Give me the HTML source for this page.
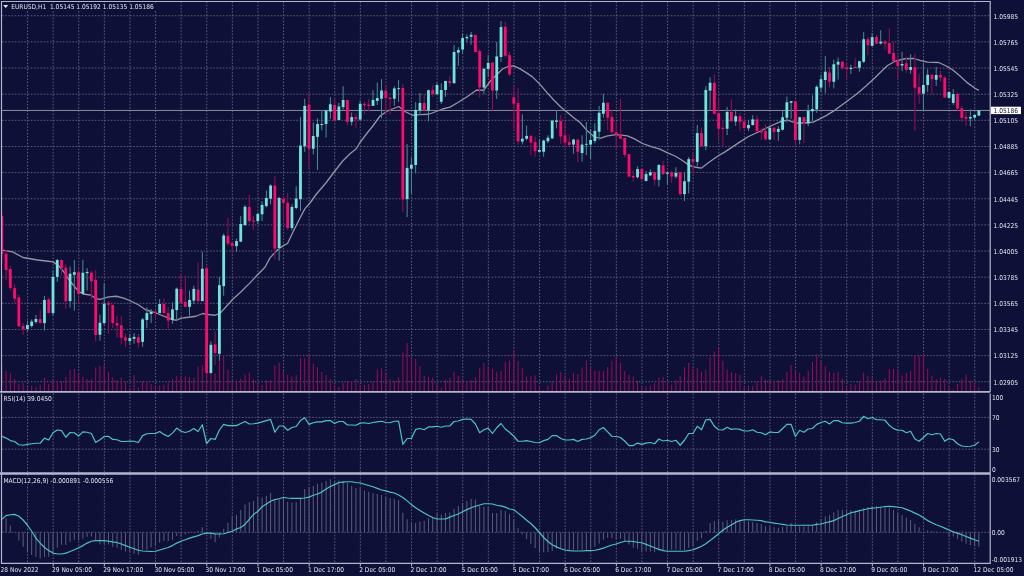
<!DOCTYPE html>
<html><head><meta charset="utf-8"><title>EURUSD,H1</title><style>
html,body{margin:0;padding:0;background:#0e1038;width:1024px;height:576px;overflow:hidden}
svg{display:block}
.g{stroke:#5c5c7a;stroke-width:1;stroke-dasharray:1.6 1.6;fill:none}
.f{stroke:#b4b4cc;stroke-width:1;fill:none}
.fr{stroke:#b4b4cc;stroke-width:1.2;fill:none}
.sep{stroke:#b4b4cc;stroke-width:1.8}
.v{stroke:#ff0a6c;stroke-width:0.6}
.h{stroke:#9494a8;stroke-width:0.6}
.u{stroke:#0e1038;stroke-width:1}
.t{font-family:"DejaVu Sans Condensed","DejaVu Sans","Liberation Sans",sans-serif;font-stretch:condensed;font-size:6.6px;fill:#e4e4ec}
</style></head><body>
<svg width="1024" height="576" viewBox="0 0 1024 576">
<defs>
<clipPath id="cm"><rect x="2" y="2" width="988.2" height="389.3"/></clipPath>
<clipPath id="cr"><rect x="2" y="394.0" width="988.2" height="78.30000000000001"/></clipPath>
<clipPath id="cd"><rect x="2" y="474.5" width="988.2" height="88.39999999999998"/></clipPath>
</defs>
<rect width="1024" height="576" fill="#0e1038"/>
<line x1="27.55" y1="1.5" x2="27.55" y2="391.8" class="g"/>
<line x1="53.15" y1="1.5" x2="53.15" y2="391.8" class="g"/>
<line x1="78.75" y1="1.5" x2="78.75" y2="391.8" class="g"/>
<line x1="104.35" y1="1.5" x2="104.35" y2="391.8" class="g"/>
<line x1="129.95" y1="1.5" x2="129.95" y2="391.8" class="g"/>
<line x1="155.55" y1="1.5" x2="155.55" y2="391.8" class="g"/>
<line x1="181.15" y1="1.5" x2="181.15" y2="391.8" class="g"/>
<line x1="206.75" y1="1.5" x2="206.75" y2="391.8" class="g"/>
<line x1="232.35" y1="1.5" x2="232.35" y2="391.8" class="g"/>
<line x1="257.95" y1="1.5" x2="257.95" y2="391.8" class="g"/>
<line x1="283.55" y1="1.5" x2="283.55" y2="391.8" class="g"/>
<line x1="309.15" y1="1.5" x2="309.15" y2="391.8" class="g"/>
<line x1="334.75" y1="1.5" x2="334.75" y2="391.8" class="g"/>
<line x1="360.35" y1="1.5" x2="360.35" y2="391.8" class="g"/>
<line x1="385.95" y1="1.5" x2="385.95" y2="391.8" class="g"/>
<line x1="411.55" y1="1.5" x2="411.55" y2="391.8" class="g"/>
<line x1="437.15" y1="1.5" x2="437.15" y2="391.8" class="g"/>
<line x1="462.75" y1="1.5" x2="462.75" y2="391.8" class="g"/>
<line x1="488.35" y1="1.5" x2="488.35" y2="391.8" class="g"/>
<line x1="513.95" y1="1.5" x2="513.95" y2="391.8" class="g"/>
<line x1="539.55" y1="1.5" x2="539.55" y2="391.8" class="g"/>
<line x1="565.15" y1="1.5" x2="565.15" y2="391.8" class="g"/>
<line x1="590.75" y1="1.5" x2="590.75" y2="391.8" class="g"/>
<line x1="616.35" y1="1.5" x2="616.35" y2="391.8" class="g"/>
<line x1="641.95" y1="1.5" x2="641.95" y2="391.8" class="g"/>
<line x1="667.55" y1="1.5" x2="667.55" y2="391.8" class="g"/>
<line x1="693.15" y1="1.5" x2="693.15" y2="391.8" class="g"/>
<line x1="718.75" y1="1.5" x2="718.75" y2="391.8" class="g"/>
<line x1="744.35" y1="1.5" x2="744.35" y2="391.8" class="g"/>
<line x1="769.95" y1="1.5" x2="769.95" y2="391.8" class="g"/>
<line x1="795.55" y1="1.5" x2="795.55" y2="391.8" class="g"/>
<line x1="821.15" y1="1.5" x2="821.15" y2="391.8" class="g"/>
<line x1="846.75" y1="1.5" x2="846.75" y2="391.8" class="g"/>
<line x1="872.35" y1="1.5" x2="872.35" y2="391.8" class="g"/>
<line x1="897.95" y1="1.5" x2="897.95" y2="391.8" class="g"/>
<line x1="923.55" y1="1.5" x2="923.55" y2="391.8" class="g"/>
<line x1="949.15" y1="1.5" x2="949.15" y2="391.8" class="g"/>
<line x1="974.75" y1="1.5" x2="974.75" y2="391.8" class="g"/>
<line x1="27.55" y1="393.5" x2="27.55" y2="472.8" class="g"/>
<line x1="53.15" y1="393.5" x2="53.15" y2="472.8" class="g"/>
<line x1="78.75" y1="393.5" x2="78.75" y2="472.8" class="g"/>
<line x1="104.35" y1="393.5" x2="104.35" y2="472.8" class="g"/>
<line x1="129.95" y1="393.5" x2="129.95" y2="472.8" class="g"/>
<line x1="155.55" y1="393.5" x2="155.55" y2="472.8" class="g"/>
<line x1="181.15" y1="393.5" x2="181.15" y2="472.8" class="g"/>
<line x1="206.75" y1="393.5" x2="206.75" y2="472.8" class="g"/>
<line x1="232.35" y1="393.5" x2="232.35" y2="472.8" class="g"/>
<line x1="257.95" y1="393.5" x2="257.95" y2="472.8" class="g"/>
<line x1="283.55" y1="393.5" x2="283.55" y2="472.8" class="g"/>
<line x1="309.15" y1="393.5" x2="309.15" y2="472.8" class="g"/>
<line x1="334.75" y1="393.5" x2="334.75" y2="472.8" class="g"/>
<line x1="360.35" y1="393.5" x2="360.35" y2="472.8" class="g"/>
<line x1="385.95" y1="393.5" x2="385.95" y2="472.8" class="g"/>
<line x1="411.55" y1="393.5" x2="411.55" y2="472.8" class="g"/>
<line x1="437.15" y1="393.5" x2="437.15" y2="472.8" class="g"/>
<line x1="462.75" y1="393.5" x2="462.75" y2="472.8" class="g"/>
<line x1="488.35" y1="393.5" x2="488.35" y2="472.8" class="g"/>
<line x1="513.95" y1="393.5" x2="513.95" y2="472.8" class="g"/>
<line x1="539.55" y1="393.5" x2="539.55" y2="472.8" class="g"/>
<line x1="565.15" y1="393.5" x2="565.15" y2="472.8" class="g"/>
<line x1="590.75" y1="393.5" x2="590.75" y2="472.8" class="g"/>
<line x1="616.35" y1="393.5" x2="616.35" y2="472.8" class="g"/>
<line x1="641.95" y1="393.5" x2="641.95" y2="472.8" class="g"/>
<line x1="667.55" y1="393.5" x2="667.55" y2="472.8" class="g"/>
<line x1="693.15" y1="393.5" x2="693.15" y2="472.8" class="g"/>
<line x1="718.75" y1="393.5" x2="718.75" y2="472.8" class="g"/>
<line x1="744.35" y1="393.5" x2="744.35" y2="472.8" class="g"/>
<line x1="769.95" y1="393.5" x2="769.95" y2="472.8" class="g"/>
<line x1="795.55" y1="393.5" x2="795.55" y2="472.8" class="g"/>
<line x1="821.15" y1="393.5" x2="821.15" y2="472.8" class="g"/>
<line x1="846.75" y1="393.5" x2="846.75" y2="472.8" class="g"/>
<line x1="872.35" y1="393.5" x2="872.35" y2="472.8" class="g"/>
<line x1="897.95" y1="393.5" x2="897.95" y2="472.8" class="g"/>
<line x1="923.55" y1="393.5" x2="923.55" y2="472.8" class="g"/>
<line x1="949.15" y1="393.5" x2="949.15" y2="472.8" class="g"/>
<line x1="974.75" y1="393.5" x2="974.75" y2="472.8" class="g"/>
<line x1="27.55" y1="474.0" x2="27.55" y2="563.4" class="g"/>
<line x1="53.15" y1="474.0" x2="53.15" y2="563.4" class="g"/>
<line x1="78.75" y1="474.0" x2="78.75" y2="563.4" class="g"/>
<line x1="104.35" y1="474.0" x2="104.35" y2="563.4" class="g"/>
<line x1="129.95" y1="474.0" x2="129.95" y2="563.4" class="g"/>
<line x1="155.55" y1="474.0" x2="155.55" y2="563.4" class="g"/>
<line x1="181.15" y1="474.0" x2="181.15" y2="563.4" class="g"/>
<line x1="206.75" y1="474.0" x2="206.75" y2="563.4" class="g"/>
<line x1="232.35" y1="474.0" x2="232.35" y2="563.4" class="g"/>
<line x1="257.95" y1="474.0" x2="257.95" y2="563.4" class="g"/>
<line x1="283.55" y1="474.0" x2="283.55" y2="563.4" class="g"/>
<line x1="309.15" y1="474.0" x2="309.15" y2="563.4" class="g"/>
<line x1="334.75" y1="474.0" x2="334.75" y2="563.4" class="g"/>
<line x1="360.35" y1="474.0" x2="360.35" y2="563.4" class="g"/>
<line x1="385.95" y1="474.0" x2="385.95" y2="563.4" class="g"/>
<line x1="411.55" y1="474.0" x2="411.55" y2="563.4" class="g"/>
<line x1="437.15" y1="474.0" x2="437.15" y2="563.4" class="g"/>
<line x1="462.75" y1="474.0" x2="462.75" y2="563.4" class="g"/>
<line x1="488.35" y1="474.0" x2="488.35" y2="563.4" class="g"/>
<line x1="513.95" y1="474.0" x2="513.95" y2="563.4" class="g"/>
<line x1="539.55" y1="474.0" x2="539.55" y2="563.4" class="g"/>
<line x1="565.15" y1="474.0" x2="565.15" y2="563.4" class="g"/>
<line x1="590.75" y1="474.0" x2="590.75" y2="563.4" class="g"/>
<line x1="616.35" y1="474.0" x2="616.35" y2="563.4" class="g"/>
<line x1="641.95" y1="474.0" x2="641.95" y2="563.4" class="g"/>
<line x1="667.55" y1="474.0" x2="667.55" y2="563.4" class="g"/>
<line x1="693.15" y1="474.0" x2="693.15" y2="563.4" class="g"/>
<line x1="718.75" y1="474.0" x2="718.75" y2="563.4" class="g"/>
<line x1="744.35" y1="474.0" x2="744.35" y2="563.4" class="g"/>
<line x1="769.95" y1="474.0" x2="769.95" y2="563.4" class="g"/>
<line x1="795.55" y1="474.0" x2="795.55" y2="563.4" class="g"/>
<line x1="821.15" y1="474.0" x2="821.15" y2="563.4" class="g"/>
<line x1="846.75" y1="474.0" x2="846.75" y2="563.4" class="g"/>
<line x1="872.35" y1="474.0" x2="872.35" y2="563.4" class="g"/>
<line x1="897.95" y1="474.0" x2="897.95" y2="563.4" class="g"/>
<line x1="923.55" y1="474.0" x2="923.55" y2="563.4" class="g"/>
<line x1="949.15" y1="474.0" x2="949.15" y2="563.4" class="g"/>
<line x1="974.75" y1="474.0" x2="974.75" y2="563.4" class="g"/>
<line x1="2" y1="15.75" x2="990.2" y2="15.75" class="g"/>
<text x="993.6" y="18.50" class="t">1.05985</text>
<line x1="2" y1="41.89" x2="990.2" y2="41.89" class="g"/>
<text x="993.6" y="44.64" class="t">1.05765</text>
<line x1="2" y1="68.04" x2="990.2" y2="68.04" class="g"/>
<text x="993.6" y="70.79" class="t">1.05545</text>
<line x1="2" y1="94.18" x2="990.2" y2="94.18" class="g"/>
<text x="993.6" y="96.93" class="t">1.05325</text>
<line x1="2" y1="120.32" x2="990.2" y2="120.32" class="g"/>
<text x="993.6" y="123.07" class="t">1.05105</text>
<line x1="2" y1="146.47" x2="990.2" y2="146.47" class="g"/>
<text x="993.6" y="149.22" class="t">1.04885</text>
<line x1="2" y1="172.61" x2="990.2" y2="172.61" class="g"/>
<text x="993.6" y="175.36" class="t">1.04665</text>
<line x1="2" y1="198.75" x2="990.2" y2="198.75" class="g"/>
<text x="993.6" y="201.50" class="t">1.04445</text>
<line x1="2" y1="224.89" x2="990.2" y2="224.89" class="g"/>
<text x="993.6" y="227.64" class="t">1.04225</text>
<line x1="2" y1="251.04" x2="990.2" y2="251.04" class="g"/>
<text x="993.6" y="253.79" class="t">1.04005</text>
<line x1="2" y1="277.18" x2="990.2" y2="277.18" class="g"/>
<text x="993.6" y="279.93" class="t">1.03785</text>
<line x1="2" y1="303.32" x2="990.2" y2="303.32" class="g"/>
<text x="993.6" y="306.07" class="t">1.03565</text>
<line x1="2" y1="329.47" x2="990.2" y2="329.47" class="g"/>
<text x="993.6" y="332.22" class="t">1.03345</text>
<line x1="2" y1="355.61" x2="990.2" y2="355.61" class="g"/>
<text x="993.6" y="358.36" class="t">1.03125</text>
<line x1="2" y1="381.75" x2="990.2" y2="381.75" class="g"/>
<text x="993.6" y="384.50" class="t">1.02905</text>
<line x1="2" y1="417.40" x2="990.2" y2="417.40" class="g"/>
<line x1="2" y1="449.20" x2="990.2" y2="449.20" class="g"/>
<line x1="2" y1="532.30" x2="990.2" y2="532.30" class="g"/>
<text x="991.9" y="399.6" class="t">100</text>
<text x="991.9" y="419.8" class="t">70</text>
<text x="991.9" y="451.6" class="t">30</text>
<text x="991.9" y="471.8" class="t">0</text>
<text x="991.7" y="481.6" class="t">0.003567</text>
<text x="991.7" y="534.8" class="t">0.00</text>
<text x="991.7" y="561.9" class="t">-0.001913</text>
<g clip-path="url(#cm)">
<line x1="1.80" y1="391.0" x2="1.80" y2="365.25" class="u"/><line x1="1.80" y1="391.0" x2="1.80" y2="365.25" class="v"/>
<line x1="6.07" y1="391.0" x2="6.07" y2="371.10" class="u"/><line x1="6.07" y1="391.0" x2="6.07" y2="371.10" class="v"/>
<line x1="10.33" y1="391.0" x2="10.33" y2="373.25" class="u"/><line x1="10.33" y1="391.0" x2="10.33" y2="373.25" class="v"/>
<line x1="14.60" y1="391.0" x2="14.60" y2="379.00" class="u"/><line x1="14.60" y1="391.0" x2="14.60" y2="379.00" class="v"/>
<line x1="18.87" y1="391.0" x2="18.87" y2="384.00" class="u"/><line x1="18.87" y1="391.0" x2="18.87" y2="384.00" class="v"/>
<line x1="23.13" y1="391.0" x2="23.13" y2="382.40" class="u"/><line x1="23.13" y1="391.0" x2="23.13" y2="382.40" class="v"/>
<line x1="27.40" y1="391.0" x2="27.40" y2="387.00" class="u"/><line x1="27.40" y1="391.0" x2="27.40" y2="387.00" class="v"/>
<line x1="31.67" y1="391.0" x2="31.67" y2="386.10" class="u"/><line x1="31.67" y1="391.0" x2="31.67" y2="386.10" class="v"/>
<line x1="35.93" y1="391.0" x2="35.93" y2="386.75" class="u"/><line x1="35.93" y1="391.0" x2="35.93" y2="386.75" class="v"/>
<line x1="40.20" y1="391.0" x2="40.20" y2="384.90" class="u"/><line x1="40.20" y1="391.0" x2="40.20" y2="384.90" class="v"/>
<line x1="44.47" y1="391.0" x2="44.47" y2="378.00" class="u"/><line x1="44.47" y1="391.0" x2="44.47" y2="378.00" class="v"/>
<line x1="48.73" y1="391.0" x2="48.73" y2="384.00" class="u"/><line x1="48.73" y1="391.0" x2="48.73" y2="384.00" class="v"/>
<line x1="53.00" y1="391.0" x2="53.00" y2="379.00" class="u"/><line x1="53.00" y1="391.0" x2="53.00" y2="379.00" class="v"/>
<line x1="57.27" y1="391.0" x2="57.27" y2="380.75" class="u"/><line x1="57.27" y1="391.0" x2="57.27" y2="380.75" class="v"/>
<line x1="61.53" y1="391.0" x2="61.53" y2="382.00" class="u"/><line x1="61.53" y1="391.0" x2="61.53" y2="382.00" class="v"/>
<line x1="65.80" y1="391.0" x2="65.80" y2="377.00" class="u"/><line x1="65.80" y1="391.0" x2="65.80" y2="377.00" class="v"/>
<line x1="70.07" y1="391.0" x2="70.07" y2="369.90" class="u"/><line x1="70.07" y1="391.0" x2="70.07" y2="369.90" class="v"/>
<line x1="74.33" y1="391.0" x2="74.33" y2="369.00" class="u"/><line x1="74.33" y1="391.0" x2="74.33" y2="369.00" class="v"/>
<line x1="78.60" y1="391.0" x2="78.60" y2="372.75" class="u"/><line x1="78.60" y1="391.0" x2="78.60" y2="372.75" class="v"/>
<line x1="82.87" y1="391.0" x2="82.87" y2="377.00" class="u"/><line x1="82.87" y1="391.0" x2="82.87" y2="377.00" class="v"/>
<line x1="87.13" y1="391.0" x2="87.13" y2="379.00" class="u"/><line x1="87.13" y1="391.0" x2="87.13" y2="379.00" class="v"/>
<line x1="91.40" y1="391.0" x2="91.40" y2="379.00" class="u"/><line x1="91.40" y1="391.0" x2="91.40" y2="379.00" class="v"/>
<line x1="95.67" y1="391.0" x2="95.67" y2="367.40" class="u"/><line x1="95.67" y1="391.0" x2="95.67" y2="367.40" class="v"/>
<line x1="99.93" y1="391.0" x2="99.93" y2="366.10" class="u"/><line x1="99.93" y1="391.0" x2="99.93" y2="366.10" class="v"/>
<line x1="104.20" y1="391.0" x2="104.20" y2="365.25" class="u"/><line x1="104.20" y1="391.0" x2="104.20" y2="365.25" class="v"/>
<line x1="108.47" y1="391.0" x2="108.47" y2="372.00" class="u"/><line x1="108.47" y1="391.0" x2="108.47" y2="372.00" class="v"/>
<line x1="112.73" y1="391.0" x2="112.73" y2="377.40" class="u"/><line x1="112.73" y1="391.0" x2="112.73" y2="377.40" class="v"/>
<line x1="117.00" y1="391.0" x2="117.00" y2="380.25" class="u"/><line x1="117.00" y1="391.0" x2="117.00" y2="380.25" class="v"/>
<line x1="121.27" y1="391.0" x2="121.27" y2="377.40" class="u"/><line x1="121.27" y1="391.0" x2="121.27" y2="377.40" class="v"/>
<line x1="125.53" y1="391.0" x2="125.53" y2="382.00" class="u"/><line x1="125.53" y1="391.0" x2="125.53" y2="382.00" class="v"/>
<line x1="129.80" y1="391.0" x2="129.80" y2="387.75" class="u"/><line x1="129.80" y1="391.0" x2="129.80" y2="387.75" class="v"/>
<line x1="134.07" y1="391.0" x2="134.07" y2="374.90" class="u"/><line x1="134.07" y1="391.0" x2="134.07" y2="374.90" class="v"/>
<line x1="138.33" y1="391.0" x2="138.33" y2="387.00" class="u"/><line x1="138.33" y1="391.0" x2="138.33" y2="387.00" class="v"/>
<line x1="142.60" y1="391.0" x2="142.60" y2="381.10" class="u"/><line x1="142.60" y1="391.0" x2="142.60" y2="381.10" class="v"/>
<line x1="146.87" y1="391.0" x2="146.87" y2="380.75" class="u"/><line x1="146.87" y1="391.0" x2="146.87" y2="380.75" class="v"/>
<line x1="151.13" y1="391.0" x2="151.13" y2="384.00" class="u"/><line x1="151.13" y1="391.0" x2="151.13" y2="384.00" class="v"/>
<line x1="155.40" y1="391.0" x2="155.40" y2="385.25" class="u"/><line x1="155.40" y1="391.0" x2="155.40" y2="385.25" class="v"/>
<line x1="159.67" y1="391.0" x2="159.67" y2="385.50" class="u"/><line x1="159.67" y1="391.0" x2="159.67" y2="385.50" class="v"/>
<line x1="163.93" y1="391.0" x2="163.93" y2="384.50" class="u"/><line x1="163.93" y1="391.0" x2="163.93" y2="384.50" class="v"/>
<line x1="168.20" y1="391.0" x2="168.20" y2="382.75" class="u"/><line x1="168.20" y1="391.0" x2="168.20" y2="382.75" class="v"/>
<line x1="172.47" y1="391.0" x2="172.47" y2="379.00" class="u"/><line x1="172.47" y1="391.0" x2="172.47" y2="379.00" class="v"/>
<line x1="176.73" y1="391.0" x2="176.73" y2="375.75" class="u"/><line x1="176.73" y1="391.0" x2="176.73" y2="375.75" class="v"/>
<line x1="181.00" y1="391.0" x2="181.00" y2="376.75" class="u"/><line x1="181.00" y1="391.0" x2="181.00" y2="376.75" class="v"/>
<line x1="185.27" y1="391.0" x2="185.27" y2="376.50" class="u"/><line x1="185.27" y1="391.0" x2="185.27" y2="376.50" class="v"/>
<line x1="189.53" y1="391.0" x2="189.53" y2="376.75" class="u"/><line x1="189.53" y1="391.0" x2="189.53" y2="376.75" class="v"/>
<line x1="193.80" y1="391.0" x2="193.80" y2="378.00" class="u"/><line x1="193.80" y1="391.0" x2="193.80" y2="378.00" class="v"/>
<line x1="198.07" y1="391.0" x2="198.07" y2="366.10" class="u"/><line x1="198.07" y1="391.0" x2="198.07" y2="366.10" class="v"/>
<line x1="202.33" y1="391.0" x2="202.33" y2="364.90" class="u"/><line x1="202.33" y1="391.0" x2="202.33" y2="364.90" class="v"/>
<line x1="206.60" y1="391.0" x2="206.60" y2="355.00" class="u"/><line x1="206.60" y1="391.0" x2="206.60" y2="355.00" class="v"/>
<line x1="210.87" y1="391.0" x2="210.87" y2="366.00" class="u"/><line x1="210.87" y1="391.0" x2="210.87" y2="366.00" class="v"/>
<line x1="215.13" y1="391.0" x2="215.13" y2="373.25" class="u"/><line x1="215.13" y1="391.0" x2="215.13" y2="373.25" class="v"/>
<line x1="219.40" y1="391.0" x2="219.40" y2="361.75" class="u"/><line x1="219.40" y1="391.0" x2="219.40" y2="361.75" class="v"/>
<line x1="223.67" y1="391.0" x2="223.67" y2="354.90" class="u"/><line x1="223.67" y1="391.0" x2="223.67" y2="354.90" class="v"/>
<line x1="227.93" y1="391.0" x2="227.93" y2="369.90" class="u"/><line x1="227.93" y1="391.0" x2="227.93" y2="369.90" class="v"/>
<line x1="232.20" y1="391.0" x2="232.20" y2="380.75" class="u"/><line x1="232.20" y1="391.0" x2="232.20" y2="380.75" class="v"/>
<line x1="236.47" y1="391.0" x2="236.47" y2="380.25" class="u"/><line x1="236.47" y1="391.0" x2="236.47" y2="380.25" class="v"/>
<line x1="240.73" y1="391.0" x2="240.73" y2="378.60" class="u"/><line x1="240.73" y1="391.0" x2="240.73" y2="378.60" class="v"/>
<line x1="245.00" y1="391.0" x2="245.00" y2="374.25" class="u"/><line x1="245.00" y1="391.0" x2="245.00" y2="374.25" class="v"/>
<line x1="249.27" y1="391.0" x2="249.27" y2="372.75" class="u"/><line x1="249.27" y1="391.0" x2="249.27" y2="372.75" class="v"/>
<line x1="253.53" y1="391.0" x2="253.53" y2="379.00" class="u"/><line x1="253.53" y1="391.0" x2="253.53" y2="379.00" class="v"/>
<line x1="257.80" y1="391.0" x2="257.80" y2="383.00" class="u"/><line x1="257.80" y1="391.0" x2="257.80" y2="383.00" class="v"/>
<line x1="262.07" y1="391.0" x2="262.07" y2="384.90" class="u"/><line x1="262.07" y1="391.0" x2="262.07" y2="384.90" class="v"/>
<line x1="266.33" y1="391.0" x2="266.33" y2="380.25" class="u"/><line x1="266.33" y1="391.0" x2="266.33" y2="380.25" class="v"/>
<line x1="270.60" y1="391.0" x2="270.60" y2="379.90" class="u"/><line x1="270.60" y1="391.0" x2="270.60" y2="379.90" class="v"/>
<line x1="274.87" y1="391.0" x2="274.87" y2="365.25" class="u"/><line x1="274.87" y1="391.0" x2="274.87" y2="365.25" class="v"/>
<line x1="279.13" y1="391.0" x2="279.13" y2="362.75" class="u"/><line x1="279.13" y1="391.0" x2="279.13" y2="362.75" class="v"/>
<line x1="283.40" y1="391.0" x2="283.40" y2="371.10" class="u"/><line x1="283.40" y1="391.0" x2="283.40" y2="371.10" class="v"/>
<line x1="287.67" y1="391.0" x2="287.67" y2="374.90" class="u"/><line x1="287.67" y1="391.0" x2="287.67" y2="374.90" class="v"/>
<line x1="291.93" y1="391.0" x2="291.93" y2="376.50" class="u"/><line x1="291.93" y1="391.0" x2="291.93" y2="376.50" class="v"/>
<line x1="296.20" y1="391.0" x2="296.20" y2="374.90" class="u"/><line x1="296.20" y1="391.0" x2="296.20" y2="374.90" class="v"/>
<line x1="300.47" y1="391.0" x2="300.47" y2="358.00" class="u"/><line x1="300.47" y1="391.0" x2="300.47" y2="358.00" class="v"/>
<line x1="304.73" y1="391.0" x2="304.73" y2="358.25" class="u"/><line x1="304.73" y1="391.0" x2="304.73" y2="358.25" class="v"/>
<line x1="309.00" y1="391.0" x2="309.00" y2="354.50" class="u"/><line x1="309.00" y1="391.0" x2="309.00" y2="354.50" class="v"/>
<line x1="313.27" y1="391.0" x2="313.27" y2="363.60" class="u"/><line x1="313.27" y1="391.0" x2="313.27" y2="363.60" class="v"/>
<line x1="317.53" y1="391.0" x2="317.53" y2="367.00" class="u"/><line x1="317.53" y1="391.0" x2="317.53" y2="367.00" class="v"/>
<line x1="321.80" y1="391.0" x2="321.80" y2="372.00" class="u"/><line x1="321.80" y1="391.0" x2="321.80" y2="372.00" class="v"/>
<line x1="326.07" y1="391.0" x2="326.07" y2="374.90" class="u"/><line x1="326.07" y1="391.0" x2="326.07" y2="374.90" class="v"/>
<line x1="330.33" y1="391.0" x2="330.33" y2="379.00" class="u"/><line x1="330.33" y1="391.0" x2="330.33" y2="379.00" class="v"/>
<line x1="334.60" y1="391.0" x2="334.60" y2="384.50" class="u"/><line x1="334.60" y1="391.0" x2="334.60" y2="384.50" class="v"/>
<line x1="338.87" y1="391.0" x2="338.87" y2="387.00" class="u"/><line x1="338.87" y1="391.0" x2="338.87" y2="387.00" class="v"/>
<line x1="343.13" y1="391.0" x2="343.13" y2="382.75" class="u"/><line x1="343.13" y1="391.0" x2="343.13" y2="382.75" class="v"/>
<line x1="347.40" y1="391.0" x2="347.40" y2="381.10" class="u"/><line x1="347.40" y1="391.0" x2="347.40" y2="381.10" class="v"/>
<line x1="351.67" y1="391.0" x2="351.67" y2="381.10" class="u"/><line x1="351.67" y1="391.0" x2="351.67" y2="381.10" class="v"/>
<line x1="355.93" y1="391.0" x2="355.93" y2="379.00" class="u"/><line x1="355.93" y1="391.0" x2="355.93" y2="379.00" class="v"/>
<line x1="360.20" y1="391.0" x2="360.20" y2="384.90" class="u"/><line x1="360.20" y1="391.0" x2="360.20" y2="384.90" class="v"/>
<line x1="364.47" y1="391.0" x2="364.47" y2="384.90" class="u"/><line x1="364.47" y1="391.0" x2="364.47" y2="384.90" class="v"/>
<line x1="368.73" y1="391.0" x2="368.73" y2="384.00" class="u"/><line x1="368.73" y1="391.0" x2="368.73" y2="384.00" class="v"/>
<line x1="373.00" y1="391.0" x2="373.00" y2="382.00" class="u"/><line x1="373.00" y1="391.0" x2="373.00" y2="382.00" class="v"/>
<line x1="377.27" y1="391.0" x2="377.27" y2="369.50" class="u"/><line x1="377.27" y1="391.0" x2="377.27" y2="369.50" class="v"/>
<line x1="381.53" y1="391.0" x2="381.53" y2="368.25" class="u"/><line x1="381.53" y1="391.0" x2="381.53" y2="368.25" class="v"/>
<line x1="385.80" y1="391.0" x2="385.80" y2="372.40" class="u"/><line x1="385.80" y1="391.0" x2="385.80" y2="372.40" class="v"/>
<line x1="390.07" y1="391.0" x2="390.07" y2="379.00" class="u"/><line x1="390.07" y1="391.0" x2="390.07" y2="379.00" class="v"/>
<line x1="394.33" y1="391.0" x2="394.33" y2="381.10" class="u"/><line x1="394.33" y1="391.0" x2="394.33" y2="381.10" class="v"/>
<line x1="398.60" y1="391.0" x2="398.60" y2="377.40" class="u"/><line x1="398.60" y1="391.0" x2="398.60" y2="377.40" class="v"/>
<line x1="402.87" y1="391.0" x2="402.87" y2="352.40" class="u"/><line x1="402.87" y1="391.0" x2="402.87" y2="352.40" class="v"/>
<line x1="407.13" y1="391.0" x2="407.13" y2="342.75" class="u"/><line x1="407.13" y1="391.0" x2="407.13" y2="342.75" class="v"/>
<line x1="411.40" y1="391.0" x2="411.40" y2="356.10" class="u"/><line x1="411.40" y1="391.0" x2="411.40" y2="356.10" class="v"/>
<line x1="415.67" y1="391.0" x2="415.67" y2="359.00" class="u"/><line x1="415.67" y1="391.0" x2="415.67" y2="359.00" class="v"/>
<line x1="419.93" y1="391.0" x2="419.93" y2="366.10" class="u"/><line x1="419.93" y1="391.0" x2="419.93" y2="366.10" class="v"/>
<line x1="424.20" y1="391.0" x2="424.20" y2="375.75" class="u"/><line x1="424.20" y1="391.0" x2="424.20" y2="375.75" class="v"/>
<line x1="428.47" y1="391.0" x2="428.47" y2="376.75" class="u"/><line x1="428.47" y1="391.0" x2="428.47" y2="376.75" class="v"/>
<line x1="432.73" y1="391.0" x2="432.73" y2="377.40" class="u"/><line x1="432.73" y1="391.0" x2="432.73" y2="377.40" class="v"/>
<line x1="437.00" y1="391.0" x2="437.00" y2="383.60" class="u"/><line x1="437.00" y1="391.0" x2="437.00" y2="383.60" class="v"/>
<line x1="441.27" y1="391.0" x2="441.27" y2="387.75" class="u"/><line x1="441.27" y1="391.0" x2="441.27" y2="387.75" class="v"/>
<line x1="445.53" y1="391.0" x2="445.53" y2="379.90" class="u"/><line x1="445.53" y1="391.0" x2="445.53" y2="379.90" class="v"/>
<line x1="449.80" y1="391.0" x2="449.80" y2="378.00" class="u"/><line x1="449.80" y1="391.0" x2="449.80" y2="378.00" class="v"/>
<line x1="454.07" y1="391.0" x2="454.07" y2="371.75" class="u"/><line x1="454.07" y1="391.0" x2="454.07" y2="371.75" class="v"/>
<line x1="458.33" y1="391.0" x2="458.33" y2="375.75" class="u"/><line x1="458.33" y1="391.0" x2="458.33" y2="375.75" class="v"/>
<line x1="462.60" y1="391.0" x2="462.60" y2="378.60" class="u"/><line x1="462.60" y1="391.0" x2="462.60" y2="378.60" class="v"/>
<line x1="466.87" y1="391.0" x2="466.87" y2="382.00" class="u"/><line x1="466.87" y1="391.0" x2="466.87" y2="382.00" class="v"/>
<line x1="471.13" y1="391.0" x2="471.13" y2="379.90" class="u"/><line x1="471.13" y1="391.0" x2="471.13" y2="379.90" class="v"/>
<line x1="475.40" y1="391.0" x2="475.40" y2="377.40" class="u"/><line x1="475.40" y1="391.0" x2="475.40" y2="377.40" class="v"/>
<line x1="479.67" y1="391.0" x2="479.67" y2="368.25" class="u"/><line x1="479.67" y1="391.0" x2="479.67" y2="368.25" class="v"/>
<line x1="483.93" y1="391.0" x2="483.93" y2="362.75" class="u"/><line x1="483.93" y1="391.0" x2="483.93" y2="362.75" class="v"/>
<line x1="488.20" y1="391.0" x2="488.20" y2="366.50" class="u"/><line x1="488.20" y1="391.0" x2="488.20" y2="366.50" class="v"/>
<line x1="492.47" y1="391.0" x2="492.47" y2="369.00" class="u"/><line x1="492.47" y1="391.0" x2="492.47" y2="369.00" class="v"/>
<line x1="496.73" y1="391.0" x2="496.73" y2="372.00" class="u"/><line x1="496.73" y1="391.0" x2="496.73" y2="372.00" class="v"/>
<line x1="501.00" y1="391.0" x2="501.00" y2="371.10" class="u"/><line x1="501.00" y1="391.0" x2="501.00" y2="371.10" class="v"/>
<line x1="505.27" y1="391.0" x2="505.27" y2="361.75" class="u"/><line x1="505.27" y1="391.0" x2="505.27" y2="361.75" class="v"/>
<line x1="509.53" y1="391.0" x2="509.53" y2="360.50" class="u"/><line x1="509.53" y1="391.0" x2="509.53" y2="360.50" class="v"/>
<line x1="513.80" y1="391.0" x2="513.80" y2="349.90" class="u"/><line x1="513.80" y1="391.0" x2="513.80" y2="349.90" class="v"/>
<line x1="518.07" y1="391.0" x2="518.07" y2="361.10" class="u"/><line x1="518.07" y1="391.0" x2="518.07" y2="361.10" class="v"/>
<line x1="522.33" y1="391.0" x2="522.33" y2="368.25" class="u"/><line x1="522.33" y1="391.0" x2="522.33" y2="368.25" class="v"/>
<line x1="526.60" y1="391.0" x2="526.60" y2="376.50" class="u"/><line x1="526.60" y1="391.0" x2="526.60" y2="376.50" class="v"/>
<line x1="530.87" y1="391.0" x2="530.87" y2="376.10" class="u"/><line x1="530.87" y1="391.0" x2="530.87" y2="376.10" class="v"/>
<line x1="535.13" y1="391.0" x2="535.13" y2="375.25" class="u"/><line x1="535.13" y1="391.0" x2="535.13" y2="375.25" class="v"/>
<line x1="539.40" y1="391.0" x2="539.40" y2="385.50" class="u"/><line x1="539.40" y1="391.0" x2="539.40" y2="385.50" class="v"/>
<line x1="543.67" y1="391.0" x2="543.67" y2="389.90" class="u"/><line x1="543.67" y1="391.0" x2="543.67" y2="389.90" class="v"/>
<line x1="547.93" y1="391.0" x2="547.93" y2="385.25" class="u"/><line x1="547.93" y1="391.0" x2="547.93" y2="385.25" class="v"/>
<line x1="552.20" y1="391.0" x2="552.20" y2="381.50" class="u"/><line x1="552.20" y1="391.0" x2="552.20" y2="381.50" class="v"/>
<line x1="556.47" y1="391.0" x2="556.47" y2="374.25" class="u"/><line x1="556.47" y1="391.0" x2="556.47" y2="374.25" class="v"/>
<line x1="560.73" y1="391.0" x2="560.73" y2="371.75" class="u"/><line x1="560.73" y1="391.0" x2="560.73" y2="371.75" class="v"/>
<line x1="565.00" y1="391.0" x2="565.00" y2="375.25" class="u"/><line x1="565.00" y1="391.0" x2="565.00" y2="375.25" class="v"/>
<line x1="569.27" y1="391.0" x2="569.27" y2="378.60" class="u"/><line x1="569.27" y1="391.0" x2="569.27" y2="378.60" class="v"/>
<line x1="573.53" y1="391.0" x2="573.53" y2="373.25" class="u"/><line x1="573.53" y1="391.0" x2="573.53" y2="373.25" class="v"/>
<line x1="577.80" y1="391.0" x2="577.80" y2="374.00" class="u"/><line x1="577.80" y1="391.0" x2="577.80" y2="374.00" class="v"/>
<line x1="582.07" y1="391.0" x2="582.07" y2="367.40" class="u"/><line x1="582.07" y1="391.0" x2="582.07" y2="367.40" class="v"/>
<line x1="586.33" y1="391.0" x2="586.33" y2="360.50" class="u"/><line x1="586.33" y1="391.0" x2="586.33" y2="360.50" class="v"/>
<line x1="590.60" y1="391.0" x2="590.60" y2="367.40" class="u"/><line x1="590.60" y1="391.0" x2="590.60" y2="367.40" class="v"/>
<line x1="594.87" y1="391.0" x2="594.87" y2="370.75" class="u"/><line x1="594.87" y1="391.0" x2="594.87" y2="370.75" class="v"/>
<line x1="599.13" y1="391.0" x2="599.13" y2="371.10" class="u"/><line x1="599.13" y1="391.0" x2="599.13" y2="371.10" class="v"/>
<line x1="603.40" y1="391.0" x2="603.40" y2="371.10" class="u"/><line x1="603.40" y1="391.0" x2="603.40" y2="371.10" class="v"/>
<line x1="607.67" y1="391.0" x2="607.67" y2="367.00" class="u"/><line x1="607.67" y1="391.0" x2="607.67" y2="367.00" class="v"/>
<line x1="611.93" y1="391.0" x2="611.93" y2="361.10" class="u"/><line x1="611.93" y1="391.0" x2="611.93" y2="361.10" class="v"/>
<line x1="616.20" y1="391.0" x2="616.20" y2="356.10" class="u"/><line x1="616.20" y1="391.0" x2="616.20" y2="356.10" class="v"/>
<line x1="620.47" y1="391.0" x2="620.47" y2="362.75" class="u"/><line x1="620.47" y1="391.0" x2="620.47" y2="362.75" class="v"/>
<line x1="624.73" y1="391.0" x2="624.73" y2="371.10" class="u"/><line x1="624.73" y1="391.0" x2="624.73" y2="371.10" class="v"/>
<line x1="629.00" y1="391.0" x2="629.00" y2="374.90" class="u"/><line x1="629.00" y1="391.0" x2="629.00" y2="374.90" class="v"/>
<line x1="633.27" y1="391.0" x2="633.27" y2="376.50" class="u"/><line x1="633.27" y1="391.0" x2="633.27" y2="376.50" class="v"/>
<line x1="637.53" y1="391.0" x2="637.53" y2="380.75" class="u"/><line x1="637.53" y1="391.0" x2="637.53" y2="380.75" class="v"/>
<line x1="641.80" y1="391.0" x2="641.80" y2="387.00" class="u"/><line x1="641.80" y1="391.0" x2="641.80" y2="387.00" class="v"/>
<line x1="646.07" y1="391.0" x2="646.07" y2="386.50" class="u"/><line x1="646.07" y1="391.0" x2="646.07" y2="386.50" class="v"/>
<line x1="650.33" y1="391.0" x2="650.33" y2="385.50" class="u"/><line x1="650.33" y1="391.0" x2="650.33" y2="385.50" class="v"/>
<line x1="654.60" y1="391.0" x2="654.60" y2="382.75" class="u"/><line x1="654.60" y1="391.0" x2="654.60" y2="382.75" class="v"/>
<line x1="658.87" y1="391.0" x2="658.87" y2="378.00" class="u"/><line x1="658.87" y1="391.0" x2="658.87" y2="378.00" class="v"/>
<line x1="663.13" y1="391.0" x2="663.13" y2="377.00" class="u"/><line x1="663.13" y1="391.0" x2="663.13" y2="377.00" class="v"/>
<line x1="667.40" y1="391.0" x2="667.40" y2="382.00" class="u"/><line x1="667.40" y1="391.0" x2="667.40" y2="382.00" class="v"/>
<line x1="671.67" y1="391.0" x2="671.67" y2="384.50" class="u"/><line x1="671.67" y1="391.0" x2="671.67" y2="384.50" class="v"/>
<line x1="675.93" y1="391.0" x2="675.93" y2="380.25" class="u"/><line x1="675.93" y1="391.0" x2="675.93" y2="380.25" class="v"/>
<line x1="680.20" y1="391.0" x2="680.20" y2="375.75" class="u"/><line x1="680.20" y1="391.0" x2="680.20" y2="375.75" class="v"/>
<line x1="684.47" y1="391.0" x2="684.47" y2="367.00" class="u"/><line x1="684.47" y1="391.0" x2="684.47" y2="367.00" class="v"/>
<line x1="688.73" y1="391.0" x2="688.73" y2="362.75" class="u"/><line x1="688.73" y1="391.0" x2="688.73" y2="362.75" class="v"/>
<line x1="693.00" y1="391.0" x2="693.00" y2="368.60" class="u"/><line x1="693.00" y1="391.0" x2="693.00" y2="368.60" class="v"/>
<line x1="697.27" y1="391.0" x2="697.27" y2="368.00" class="u"/><line x1="697.27" y1="391.0" x2="697.27" y2="368.00" class="v"/>
<line x1="701.53" y1="391.0" x2="701.53" y2="372.00" class="u"/><line x1="701.53" y1="391.0" x2="701.53" y2="372.00" class="v"/>
<line x1="705.80" y1="391.0" x2="705.80" y2="369.90" class="u"/><line x1="705.80" y1="391.0" x2="705.80" y2="369.90" class="v"/>
<line x1="710.07" y1="391.0" x2="710.07" y2="357.00" class="u"/><line x1="710.07" y1="391.0" x2="710.07" y2="357.00" class="v"/>
<line x1="714.33" y1="391.0" x2="714.33" y2="351.75" class="u"/><line x1="714.33" y1="391.0" x2="714.33" y2="351.75" class="v"/>
<line x1="718.60" y1="391.0" x2="718.60" y2="347.00" class="u"/><line x1="718.60" y1="391.0" x2="718.60" y2="347.00" class="v"/>
<line x1="722.87" y1="391.0" x2="722.87" y2="360.75" class="u"/><line x1="722.87" y1="391.0" x2="722.87" y2="360.75" class="v"/>
<line x1="727.13" y1="391.0" x2="727.13" y2="369.50" class="u"/><line x1="727.13" y1="391.0" x2="727.13" y2="369.50" class="v"/>
<line x1="731.40" y1="391.0" x2="731.40" y2="372.00" class="u"/><line x1="731.40" y1="391.0" x2="731.40" y2="372.00" class="v"/>
<line x1="735.67" y1="391.0" x2="735.67" y2="373.00" class="u"/><line x1="735.67" y1="391.0" x2="735.67" y2="373.00" class="v"/>
<line x1="739.93" y1="391.0" x2="739.93" y2="374.90" class="u"/><line x1="739.93" y1="391.0" x2="739.93" y2="374.90" class="v"/>
<line x1="744.20" y1="391.0" x2="744.20" y2="386.75" class="u"/><line x1="744.20" y1="391.0" x2="744.20" y2="386.75" class="v"/>
<line x1="748.47" y1="391.0" x2="748.47" y2="385.75" class="u"/><line x1="748.47" y1="391.0" x2="748.47" y2="385.75" class="v"/>
<line x1="752.73" y1="391.0" x2="752.73" y2="385.75" class="u"/><line x1="752.73" y1="391.0" x2="752.73" y2="385.75" class="v"/>
<line x1="757.00" y1="391.0" x2="757.00" y2="382.00" class="u"/><line x1="757.00" y1="391.0" x2="757.00" y2="382.00" class="v"/>
<line x1="761.27" y1="391.0" x2="761.27" y2="376.10" class="u"/><line x1="761.27" y1="391.0" x2="761.27" y2="376.10" class="v"/>
<line x1="765.53" y1="391.0" x2="765.53" y2="379.50" class="u"/><line x1="765.53" y1="391.0" x2="765.53" y2="379.50" class="v"/>
<line x1="769.80" y1="391.0" x2="769.80" y2="380.50" class="u"/><line x1="769.80" y1="391.0" x2="769.80" y2="380.50" class="v"/>
<line x1="774.07" y1="391.0" x2="774.07" y2="380.50" class="u"/><line x1="774.07" y1="391.0" x2="774.07" y2="380.50" class="v"/>
<line x1="778.33" y1="391.0" x2="778.33" y2="379.90" class="u"/><line x1="778.33" y1="391.0" x2="778.33" y2="379.90" class="v"/>
<line x1="782.60" y1="391.0" x2="782.60" y2="379.00" class="u"/><line x1="782.60" y1="391.0" x2="782.60" y2="379.00" class="v"/>
<line x1="786.87" y1="391.0" x2="786.87" y2="372.00" class="u"/><line x1="786.87" y1="391.0" x2="786.87" y2="372.00" class="v"/>
<line x1="791.13" y1="391.0" x2="791.13" y2="364.90" class="u"/><line x1="791.13" y1="391.0" x2="791.13" y2="364.90" class="v"/>
<line x1="795.40" y1="391.0" x2="795.40" y2="369.90" class="u"/><line x1="795.40" y1="391.0" x2="795.40" y2="369.90" class="v"/>
<line x1="799.67" y1="391.0" x2="799.67" y2="372.75" class="u"/><line x1="799.67" y1="391.0" x2="799.67" y2="372.75" class="v"/>
<line x1="803.93" y1="391.0" x2="803.93" y2="376.50" class="u"/><line x1="803.93" y1="391.0" x2="803.93" y2="376.50" class="v"/>
<line x1="808.20" y1="391.0" x2="808.20" y2="370.75" class="u"/><line x1="808.20" y1="391.0" x2="808.20" y2="370.75" class="v"/>
<line x1="812.47" y1="391.0" x2="812.47" y2="362.00" class="u"/><line x1="812.47" y1="391.0" x2="812.47" y2="362.00" class="v"/>
<line x1="816.73" y1="391.0" x2="816.73" y2="354.25" class="u"/><line x1="816.73" y1="391.0" x2="816.73" y2="354.25" class="v"/>
<line x1="821.00" y1="391.0" x2="821.00" y2="360.75" class="u"/><line x1="821.00" y1="391.0" x2="821.00" y2="360.75" class="v"/>
<line x1="825.27" y1="391.0" x2="825.27" y2="366.10" class="u"/><line x1="825.27" y1="391.0" x2="825.27" y2="366.10" class="v"/>
<line x1="829.53" y1="391.0" x2="829.53" y2="372.00" class="u"/><line x1="829.53" y1="391.0" x2="829.53" y2="372.00" class="v"/>
<line x1="833.80" y1="391.0" x2="833.80" y2="373.00" class="u"/><line x1="833.80" y1="391.0" x2="833.80" y2="373.00" class="v"/>
<line x1="838.07" y1="391.0" x2="838.07" y2="372.00" class="u"/><line x1="838.07" y1="391.0" x2="838.07" y2="372.00" class="v"/>
<line x1="842.33" y1="391.0" x2="842.33" y2="378.60" class="u"/><line x1="842.33" y1="391.0" x2="842.33" y2="378.60" class="v"/>
<line x1="846.60" y1="391.0" x2="846.60" y2="386.50" class="u"/><line x1="846.60" y1="391.0" x2="846.60" y2="386.50" class="v"/>
<line x1="850.87" y1="391.0" x2="850.87" y2="384.00" class="u"/><line x1="850.87" y1="391.0" x2="850.87" y2="384.00" class="v"/>
<line x1="855.13" y1="391.0" x2="855.13" y2="384.50" class="u"/><line x1="855.13" y1="391.0" x2="855.13" y2="384.50" class="v"/>
<line x1="859.40" y1="391.0" x2="859.40" y2="382.00" class="u"/><line x1="859.40" y1="391.0" x2="859.40" y2="382.00" class="v"/>
<line x1="863.67" y1="391.0" x2="863.67" y2="372.75" class="u"/><line x1="863.67" y1="391.0" x2="863.67" y2="372.75" class="v"/>
<line x1="867.93" y1="391.0" x2="867.93" y2="375.75" class="u"/><line x1="867.93" y1="391.0" x2="867.93" y2="375.75" class="v"/>
<line x1="872.20" y1="391.0" x2="872.20" y2="378.00" class="u"/><line x1="872.20" y1="391.0" x2="872.20" y2="378.00" class="v"/>
<line x1="876.47" y1="391.0" x2="876.47" y2="382.00" class="u"/><line x1="876.47" y1="391.0" x2="876.47" y2="382.00" class="v"/>
<line x1="880.73" y1="391.0" x2="880.73" y2="380.25" class="u"/><line x1="880.73" y1="391.0" x2="880.73" y2="380.25" class="v"/>
<line x1="885.00" y1="391.0" x2="885.00" y2="378.60" class="u"/><line x1="885.00" y1="391.0" x2="885.00" y2="378.60" class="v"/>
<line x1="889.27" y1="391.0" x2="889.27" y2="369.00" class="u"/><line x1="889.27" y1="391.0" x2="889.27" y2="369.00" class="v"/>
<line x1="893.53" y1="391.0" x2="893.53" y2="369.00" class="u"/><line x1="893.53" y1="391.0" x2="893.53" y2="369.00" class="v"/>
<line x1="897.80" y1="391.0" x2="897.80" y2="369.25" class="u"/><line x1="897.80" y1="391.0" x2="897.80" y2="369.25" class="v"/>
<line x1="902.07" y1="391.0" x2="902.07" y2="375.75" class="u"/><line x1="902.07" y1="391.0" x2="902.07" y2="375.75" class="v"/>
<line x1="906.33" y1="391.0" x2="906.33" y2="372.75" class="u"/><line x1="906.33" y1="391.0" x2="906.33" y2="372.75" class="v"/>
<line x1="910.60" y1="391.0" x2="910.60" y2="371.10" class="u"/><line x1="910.60" y1="391.0" x2="910.60" y2="371.10" class="v"/>
<line x1="914.87" y1="391.0" x2="914.87" y2="355.50" class="u"/><line x1="914.87" y1="391.0" x2="914.87" y2="355.50" class="v"/>
<line x1="919.13" y1="391.0" x2="919.13" y2="356.10" class="u"/><line x1="919.13" y1="391.0" x2="919.13" y2="356.10" class="v"/>
<line x1="923.40" y1="391.0" x2="923.40" y2="353.60" class="u"/><line x1="923.40" y1="391.0" x2="923.40" y2="353.60" class="v"/>
<line x1="927.67" y1="391.0" x2="927.67" y2="369.00" class="u"/><line x1="927.67" y1="391.0" x2="927.67" y2="369.00" class="v"/>
<line x1="931.93" y1="391.0" x2="931.93" y2="375.75" class="u"/><line x1="931.93" y1="391.0" x2="931.93" y2="375.75" class="v"/>
<line x1="936.20" y1="391.0" x2="936.20" y2="379.00" class="u"/><line x1="936.20" y1="391.0" x2="936.20" y2="379.00" class="v"/>
<line x1="940.47" y1="391.0" x2="940.47" y2="377.75" class="u"/><line x1="940.47" y1="391.0" x2="940.47" y2="377.75" class="v"/>
<line x1="944.73" y1="391.0" x2="944.73" y2="379.00" class="u"/><line x1="944.73" y1="391.0" x2="944.73" y2="379.00" class="v"/>
<line x1="949.00" y1="391.0" x2="949.00" y2="385.25" class="u"/><line x1="949.00" y1="391.0" x2="949.00" y2="385.25" class="v"/>
<line x1="953.27" y1="391.0" x2="953.27" y2="389.50" class="u"/><line x1="953.27" y1="391.0" x2="953.27" y2="389.50" class="v"/>
<line x1="957.53" y1="391.0" x2="957.53" y2="384.00" class="u"/><line x1="957.53" y1="391.0" x2="957.53" y2="384.00" class="v"/>
<line x1="961.80" y1="391.0" x2="961.80" y2="379.00" class="u"/><line x1="961.80" y1="391.0" x2="961.80" y2="379.00" class="v"/>
<line x1="966.07" y1="391.0" x2="966.07" y2="374.00" class="u"/><line x1="966.07" y1="391.0" x2="966.07" y2="374.00" class="v"/>
<line x1="970.33" y1="391.0" x2="970.33" y2="380.75" class="u"/><line x1="970.33" y1="391.0" x2="970.33" y2="380.75" class="v"/>
<line x1="974.60" y1="391.0" x2="974.60" y2="382.40" class="u"/><line x1="974.60" y1="391.0" x2="974.60" y2="382.40" class="v"/>
<line x1="978.87" y1="391.0" x2="978.87" y2="387.00" class="u"/><line x1="978.87" y1="391.0" x2="978.87" y2="387.00" class="v"/>
<polyline points="1.50,250.00 12.50,251.90 23.00,257.50 37.50,260.00 48.00,261.25 53.00,261.90 59.25,266.25 64.25,272.50 69.25,280.00 74.25,286.25 78.60,291.25 83.00,294.00 90.50,295.00 96.25,298.75 100.00,299.40 104.25,298.10 108.75,296.90 116.25,296.25 123.75,298.10 131.25,301.25 138.75,305.00 146.00,310.00 151.00,311.25 161.00,315.00 168.50,318.10 173.50,320.00 177.25,320.00 181.00,318.10 188.50,317.25 196.00,316.25 202.75,313.50 206.50,314.40 215.25,315.25 220.25,313.10 226.50,306.25 232.50,299.50 240.25,292.50 250.00,282.90 257.50,274.75 265.00,267.25 270.00,257.90 277.50,249.75 283.75,245.40 287.50,243.50 293.75,230.50 300.00,218.00 305.00,208.60 310.00,203.00 316.25,194.25 326.25,182.50 333.75,172.50 342.50,161.25 350.00,153.75 356.25,148.75 360.00,142.50 367.50,132.50 372.50,126.50 380.00,116.00 387.50,110.90 392.50,109.00 398.75,106.50 405.00,111.50 412.50,115.25 420.00,114.60 428.75,114.25 436.25,111.50 442.50,109.00 450.00,107.10 457.50,102.75 467.50,96.50 476.25,90.25 483.75,90.25 490.00,81.50 496.25,75.25 502.50,69.00 508.00,66.50 513.75,65.80 518.75,68.10 525.00,71.90 532.50,76.90 540.00,84.40 547.50,93.10 553.75,100.00 561.25,107.50 567.50,112.50 575.00,118.75 580.00,122.50 587.50,131.00 593.75,136.50 600.00,138.40 607.50,135.90 616.25,134.60 627.50,135.80 635.00,139.10 642.50,143.50 651.25,146.60 660.00,149.10 667.50,152.90 675.00,156.00 681.25,159.75 687.50,164.10 692.50,166.60 697.50,167.50 701.25,168.20 708.00,163.00 717.50,156.25 725.00,151.90 732.50,146.90 740.00,141.90 748.50,136.50 760.00,131.25 770.00,126.25 780.00,121.90 787.50,120.00 792.50,121.90 796.25,123.00 805.00,123.00 813.20,122.20 825.70,115.90 835.00,110.10 846.00,101.90 857.00,93.70 866.00,86.00 875.00,77.75 881.25,71.50 887.50,65.50 896.00,60.80 905.00,58.75 913.75,58.50 920.00,60.40 927.50,62.20 938.75,62.50 946.25,66.00 952.50,69.75 960.00,76.00 967.50,82.90 975.00,88.25 978.90,90.40" fill="none" stroke="#9494a4" stroke-width="1.3" stroke-linejoin="round"/>
<line x1="1.5" y1="110.45" x2="990.2" y2="110.45" stroke="#8c8ca0" stroke-width="1"/>
<line x1="1.80" y1="212.00" x2="1.80" y2="263.00" class="u"/><line x1="1.80" y1="212.00" x2="1.80" y2="263.00" stroke="#ff0a6c" stroke-width="0.6"/>
<rect x="0.40" y="216.00" width="2.8" height="38.00" fill="#ff0a6c"/>
<line x1="6.07" y1="249.50" x2="6.07" y2="280.00" class="u"/><line x1="6.07" y1="249.50" x2="6.07" y2="280.00" stroke="#ff0a6c" stroke-width="0.6"/>
<rect x="4.67" y="253.75" width="2.8" height="16.25" fill="#ff0a6c"/>
<line x1="10.33" y1="265.60" x2="10.33" y2="290.60" class="u"/><line x1="10.33" y1="265.60" x2="10.33" y2="290.60" stroke="#ff0a6c" stroke-width="0.6"/>
<rect x="8.93" y="269.00" width="2.8" height="19.10" fill="#ff0a6c"/>
<line x1="14.60" y1="283.75" x2="14.60" y2="303.75" class="u"/><line x1="14.60" y1="283.75" x2="14.60" y2="303.75" stroke="#ff0a6c" stroke-width="0.6"/>
<rect x="13.20" y="288.10" width="2.8" height="10.65" fill="#ff0a6c"/>
<line x1="18.87" y1="295.00" x2="18.87" y2="326.50" class="u"/><line x1="18.87" y1="295.00" x2="18.87" y2="326.50" stroke="#ff0a6c" stroke-width="0.6"/>
<rect x="17.47" y="297.50" width="2.8" height="29.00" fill="#ff0a6c"/>
<line x1="23.13" y1="323.00" x2="23.13" y2="335.00" class="u"/><line x1="23.13" y1="323.00" x2="23.13" y2="335.00" stroke="#ff0a6c" stroke-width="0.6"/>
<rect x="21.73" y="326.00" width="2.8" height="3.00" fill="#ff0a6c"/>
<line x1="27.40" y1="320.60" x2="27.40" y2="331.50" class="u"/><line x1="27.40" y1="320.60" x2="27.40" y2="331.50" stroke="#6ee6dc" stroke-width="0.6"/>
<rect x="26.00" y="325.00" width="2.8" height="4.00" fill="#6ee6dc"/>
<line x1="31.67" y1="319.40" x2="31.67" y2="327.50" class="u"/><line x1="31.67" y1="319.40" x2="31.67" y2="327.50" stroke="#6ee6dc" stroke-width="0.6"/>
<rect x="30.27" y="321.50" width="2.8" height="4.50" fill="#6ee6dc"/>
<line x1="35.93" y1="315.00" x2="35.93" y2="323.75" class="u"/><line x1="35.93" y1="315.00" x2="35.93" y2="323.75" stroke="#6ee6dc" stroke-width="0.6"/>
<rect x="34.53" y="319.00" width="2.8" height="2.90" fill="#6ee6dc"/>
<line x1="40.20" y1="310.00" x2="40.20" y2="323.10" class="u"/><line x1="40.20" y1="310.00" x2="40.20" y2="323.10" stroke="#ff0a6c" stroke-width="0.6"/>
<rect x="38.80" y="319.00" width="2.8" height="4.10" fill="#ff0a6c"/>
<line x1="44.47" y1="296.00" x2="44.47" y2="330.60" class="u"/><line x1="44.47" y1="296.00" x2="44.47" y2="330.60" stroke="#6ee6dc" stroke-width="0.6"/>
<rect x="43.07" y="300.00" width="2.8" height="23.10" fill="#6ee6dc"/>
<line x1="48.73" y1="297.25" x2="48.73" y2="313.10" class="u"/><line x1="48.73" y1="297.25" x2="48.73" y2="313.10" stroke="#ff0a6c" stroke-width="0.6"/>
<rect x="47.33" y="299.40" width="2.8" height="13.70" fill="#ff0a6c"/>
<line x1="53.00" y1="270.30" x2="53.00" y2="315.60" class="u"/><line x1="53.00" y1="270.30" x2="53.00" y2="315.60" stroke="#6ee6dc" stroke-width="0.6"/>
<rect x="51.60" y="276.90" width="2.8" height="36.20" fill="#6ee6dc"/>
<line x1="57.27" y1="258.75" x2="57.27" y2="281.90" class="u"/><line x1="57.27" y1="258.75" x2="57.27" y2="281.90" stroke="#6ee6dc" stroke-width="0.6"/>
<rect x="55.87" y="260.00" width="2.8" height="16.90" fill="#6ee6dc"/>
<line x1="61.53" y1="259.40" x2="61.53" y2="275.60" class="u"/><line x1="61.53" y1="259.40" x2="61.53" y2="275.60" stroke="#ff0a6c" stroke-width="0.6"/>
<rect x="60.13" y="260.00" width="2.8" height="8.00" fill="#ff0a6c"/>
<line x1="65.80" y1="264.40" x2="65.80" y2="308.75" class="u"/><line x1="65.80" y1="264.40" x2="65.80" y2="308.75" stroke="#ff0a6c" stroke-width="0.6"/>
<rect x="64.40" y="267.75" width="2.8" height="33.50" fill="#ff0a6c"/>
<line x1="70.07" y1="266.50" x2="70.07" y2="307.50" class="u"/><line x1="70.07" y1="266.50" x2="70.07" y2="307.50" stroke="#6ee6dc" stroke-width="0.6"/>
<rect x="68.67" y="273.75" width="2.8" height="27.25" fill="#6ee6dc"/>
<line x1="74.33" y1="260.00" x2="74.33" y2="310.60" class="u"/><line x1="74.33" y1="260.00" x2="74.33" y2="310.60" stroke="#6ee6dc" stroke-width="0.6"/>
<rect x="72.93" y="272.25" width="2.8" height="2.50" fill="#6ee6dc"/>
<line x1="78.60" y1="266.90" x2="78.60" y2="304.00" class="u"/><line x1="78.60" y1="266.90" x2="78.60" y2="304.00" stroke="#ff0a6c" stroke-width="0.6"/>
<rect x="77.20" y="272.25" width="2.8" height="21.75" fill="#ff0a6c"/>
<line x1="82.87" y1="259.75" x2="82.87" y2="293.75" class="u"/><line x1="82.87" y1="259.75" x2="82.87" y2="293.75" stroke="#6ee6dc" stroke-width="0.6"/>
<rect x="81.47" y="272.75" width="2.8" height="21.00" fill="#6ee6dc"/>
<line x1="87.13" y1="268.10" x2="87.13" y2="290.60" class="u"/><line x1="87.13" y1="268.10" x2="87.13" y2="290.60" stroke="#6ee6dc" stroke-width="0.6"/>
<rect x="85.73" y="271.90" width="2.8" height="1.20" fill="#6ee6dc"/>
<line x1="91.40" y1="271.00" x2="91.40" y2="299.40" class="u"/><line x1="91.40" y1="271.00" x2="91.40" y2="299.40" stroke="#ff0a6c" stroke-width="0.6"/>
<rect x="90.00" y="272.75" width="2.8" height="8.50" fill="#ff0a6c"/>
<line x1="95.67" y1="270.00" x2="95.67" y2="341.25" class="u"/><line x1="95.67" y1="270.00" x2="95.67" y2="341.25" stroke="#ff0a6c" stroke-width="0.6"/>
<rect x="94.27" y="280.00" width="2.8" height="55.00" fill="#ff0a6c"/>
<line x1="99.93" y1="314.75" x2="99.93" y2="340.60" class="u"/><line x1="99.93" y1="314.75" x2="99.93" y2="340.60" stroke="#6ee6dc" stroke-width="0.6"/>
<rect x="98.53" y="322.75" width="2.8" height="12.00" fill="#6ee6dc"/>
<line x1="104.20" y1="283.10" x2="104.20" y2="325.00" class="u"/><line x1="104.20" y1="283.10" x2="104.20" y2="325.00" stroke="#6ee6dc" stroke-width="0.6"/>
<rect x="102.80" y="303.75" width="2.8" height="19.35" fill="#6ee6dc"/>
<line x1="108.47" y1="301.00" x2="108.47" y2="333.75" class="u"/><line x1="108.47" y1="301.00" x2="108.47" y2="333.75" stroke="#ff0a6c" stroke-width="0.6"/>
<rect x="107.07" y="302.75" width="2.8" height="2.00" fill="#ff0a6c"/>
<line x1="112.73" y1="305.00" x2="112.73" y2="328.10" class="u"/><line x1="112.73" y1="305.00" x2="112.73" y2="328.10" stroke="#ff0a6c" stroke-width="0.6"/>
<rect x="111.33" y="305.00" width="2.8" height="18.10" fill="#ff0a6c"/>
<line x1="117.00" y1="316.00" x2="117.00" y2="337.50" class="u"/><line x1="117.00" y1="316.00" x2="117.00" y2="337.50" stroke="#ff0a6c" stroke-width="0.6"/>
<rect x="115.60" y="323.10" width="2.8" height="2.50" fill="#ff0a6c"/>
<line x1="121.27" y1="316.25" x2="121.27" y2="344.40" class="u"/><line x1="121.27" y1="316.25" x2="121.27" y2="344.40" stroke="#ff0a6c" stroke-width="0.6"/>
<rect x="119.87" y="325.25" width="2.8" height="12.50" fill="#ff0a6c"/>
<line x1="125.53" y1="333.75" x2="125.53" y2="346.90" class="u"/><line x1="125.53" y1="333.75" x2="125.53" y2="346.90" stroke="#ff0a6c" stroke-width="0.6"/>
<rect x="124.13" y="337.50" width="2.8" height="3.10" fill="#ff0a6c"/>
<line x1="129.80" y1="334.00" x2="129.80" y2="345.00" class="u"/><line x1="129.80" y1="334.00" x2="129.80" y2="345.00" stroke="#6ee6dc" stroke-width="0.6"/>
<rect x="128.40" y="338.10" width="2.8" height="2.90" fill="#6ee6dc"/>
<line x1="134.07" y1="333.10" x2="134.07" y2="343.75" class="u"/><line x1="134.07" y1="333.10" x2="134.07" y2="343.75" stroke="#6ee6dc" stroke-width="0.6"/>
<rect x="132.67" y="336.90" width="2.8" height="1.85" fill="#6ee6dc"/>
<line x1="138.33" y1="334.00" x2="138.33" y2="347.75" class="u"/><line x1="138.33" y1="334.00" x2="138.33" y2="347.75" stroke="#ff0a6c" stroke-width="0.6"/>
<rect x="136.93" y="337.25" width="2.8" height="5.50" fill="#ff0a6c"/>
<line x1="142.60" y1="318.00" x2="142.60" y2="346.90" class="u"/><line x1="142.60" y1="318.00" x2="142.60" y2="346.90" stroke="#6ee6dc" stroke-width="0.6"/>
<rect x="141.20" y="319.40" width="2.8" height="22.50" fill="#6ee6dc"/>
<line x1="146.87" y1="307.25" x2="146.87" y2="328.10" class="u"/><line x1="146.87" y1="307.25" x2="146.87" y2="328.10" stroke="#6ee6dc" stroke-width="0.6"/>
<rect x="145.47" y="313.10" width="2.8" height="6.90" fill="#6ee6dc"/>
<line x1="151.13" y1="309.00" x2="151.13" y2="323.10" class="u"/><line x1="151.13" y1="309.00" x2="151.13" y2="323.10" stroke="#6ee6dc" stroke-width="0.6"/>
<rect x="149.73" y="311.90" width="2.8" height="2.10" fill="#6ee6dc"/>
<line x1="155.40" y1="310.60" x2="155.40" y2="319.40" class="u"/><line x1="155.40" y1="310.60" x2="155.40" y2="319.40" stroke="#ff0a6c" stroke-width="0.6"/>
<rect x="154.00" y="311.50" width="2.8" height="1.50" fill="#ff0a6c"/>
<line x1="159.67" y1="299.00" x2="159.67" y2="313.10" class="u"/><line x1="159.67" y1="299.00" x2="159.67" y2="313.10" stroke="#6ee6dc" stroke-width="0.6"/>
<rect x="158.27" y="304.00" width="2.8" height="9.10" fill="#6ee6dc"/>
<line x1="163.93" y1="298.10" x2="163.93" y2="313.10" class="u"/><line x1="163.93" y1="298.10" x2="163.93" y2="313.10" stroke="#ff0a6c" stroke-width="0.6"/>
<rect x="162.53" y="304.00" width="2.8" height="9.10" fill="#ff0a6c"/>
<line x1="168.20" y1="306.90" x2="168.20" y2="328.50" class="u"/><line x1="168.20" y1="306.90" x2="168.20" y2="328.50" stroke="#ff0a6c" stroke-width="0.6"/>
<rect x="166.80" y="313.10" width="2.8" height="7.50" fill="#ff0a6c"/>
<line x1="172.47" y1="302.25" x2="172.47" y2="323.75" class="u"/><line x1="172.47" y1="302.25" x2="172.47" y2="323.75" stroke="#6ee6dc" stroke-width="0.6"/>
<rect x="171.07" y="309.40" width="2.8" height="10.60" fill="#6ee6dc"/>
<line x1="176.73" y1="287.50" x2="176.73" y2="321.25" class="u"/><line x1="176.73" y1="287.50" x2="176.73" y2="321.25" stroke="#6ee6dc" stroke-width="0.6"/>
<rect x="175.33" y="288.75" width="2.8" height="21.25" fill="#6ee6dc"/>
<line x1="181.00" y1="274.40" x2="181.00" y2="302.75" class="u"/><line x1="181.00" y1="274.40" x2="181.00" y2="302.75" stroke="#ff0a6c" stroke-width="0.6"/>
<rect x="179.60" y="289.00" width="2.8" height="13.75" fill="#ff0a6c"/>
<line x1="185.27" y1="275.60" x2="185.27" y2="306.90" class="u"/><line x1="185.27" y1="275.60" x2="185.27" y2="306.90" stroke="#ff0a6c" stroke-width="0.6"/>
<rect x="183.87" y="301.90" width="2.8" height="5.00" fill="#ff0a6c"/>
<line x1="189.53" y1="290.60" x2="189.53" y2="315.60" class="u"/><line x1="189.53" y1="290.60" x2="189.53" y2="315.60" stroke="#6ee6dc" stroke-width="0.6"/>
<rect x="188.13" y="300.00" width="2.8" height="6.90" fill="#6ee6dc"/>
<line x1="193.80" y1="285.60" x2="193.80" y2="304.00" class="u"/><line x1="193.80" y1="285.60" x2="193.80" y2="304.00" stroke="#6ee6dc" stroke-width="0.6"/>
<rect x="192.40" y="288.90" width="2.8" height="11.70" fill="#6ee6dc"/>
<line x1="198.07" y1="261.90" x2="198.07" y2="302.75" class="u"/><line x1="198.07" y1="261.90" x2="198.07" y2="302.75" stroke="#ff0a6c" stroke-width="0.6"/>
<rect x="196.67" y="289.50" width="2.8" height="11.60" fill="#ff0a6c"/>
<line x1="202.33" y1="251.90" x2="202.33" y2="301.10" class="u"/><line x1="202.33" y1="251.90" x2="202.33" y2="301.10" stroke="#6ee6dc" stroke-width="0.6"/>
<rect x="200.93" y="268.75" width="2.8" height="32.35" fill="#6ee6dc"/>
<line x1="206.60" y1="265.60" x2="206.60" y2="373.10" class="u"/><line x1="206.60" y1="265.60" x2="206.60" y2="373.10" stroke="#ff0a6c" stroke-width="0.6"/>
<rect x="205.20" y="268.20" width="2.8" height="104.90" fill="#ff0a6c"/>
<line x1="210.87" y1="341.25" x2="210.87" y2="373.10" class="u"/><line x1="210.87" y1="341.25" x2="210.87" y2="373.10" stroke="#6ee6dc" stroke-width="0.6"/>
<rect x="209.47" y="344.75" width="2.8" height="28.35" fill="#6ee6dc"/>
<line x1="215.13" y1="331.00" x2="215.13" y2="365.00" class="u"/><line x1="215.13" y1="331.00" x2="215.13" y2="365.00" stroke="#ff0a6c" stroke-width="0.6"/>
<rect x="213.73" y="344.40" width="2.8" height="8.70" fill="#ff0a6c"/>
<line x1="219.40" y1="277.00" x2="219.40" y2="361.25" class="u"/><line x1="219.40" y1="277.00" x2="219.40" y2="361.25" stroke="#6ee6dc" stroke-width="0.6"/>
<rect x="218.00" y="285.20" width="2.8" height="68.55" fill="#6ee6dc"/>
<line x1="223.67" y1="233.60" x2="223.67" y2="295.70" class="u"/><line x1="223.67" y1="233.60" x2="223.67" y2="295.70" stroke="#6ee6dc" stroke-width="0.6"/>
<rect x="222.27" y="235.50" width="2.8" height="50.60" fill="#6ee6dc"/>
<line x1="227.93" y1="217.75" x2="227.93" y2="245.75" class="u"/><line x1="227.93" y1="217.75" x2="227.93" y2="245.75" stroke="#ff0a6c" stroke-width="0.6"/>
<rect x="226.53" y="235.75" width="2.8" height="7.95" fill="#ff0a6c"/>
<line x1="232.20" y1="241.10" x2="232.20" y2="253.50" class="u"/><line x1="232.20" y1="241.10" x2="232.20" y2="253.50" stroke="#ff0a6c" stroke-width="0.6"/>
<rect x="230.80" y="243.10" width="2.8" height="2.80" fill="#ff0a6c"/>
<line x1="236.47" y1="238.40" x2="236.47" y2="252.00" class="u"/><line x1="236.47" y1="238.40" x2="236.47" y2="252.00" stroke="#6ee6dc" stroke-width="0.6"/>
<rect x="235.07" y="241.10" width="2.8" height="5.00" fill="#6ee6dc"/>
<line x1="240.73" y1="216.10" x2="240.73" y2="241.70" class="u"/><line x1="240.73" y1="216.10" x2="240.73" y2="241.70" stroke="#6ee6dc" stroke-width="0.6"/>
<rect x="239.33" y="224.00" width="2.8" height="17.70" fill="#6ee6dc"/>
<line x1="245.00" y1="204.90" x2="245.00" y2="225.25" class="u"/><line x1="245.00" y1="204.90" x2="245.00" y2="225.25" stroke="#6ee6dc" stroke-width="0.6"/>
<rect x="243.60" y="206.75" width="2.8" height="18.50" fill="#6ee6dc"/>
<line x1="249.27" y1="194.60" x2="249.27" y2="223.00" class="u"/><line x1="249.27" y1="194.60" x2="249.27" y2="223.00" stroke="#ff0a6c" stroke-width="0.6"/>
<rect x="247.87" y="207.00" width="2.8" height="14.10" fill="#ff0a6c"/>
<line x1="253.53" y1="215.50" x2="253.53" y2="229.90" class="u"/><line x1="253.53" y1="215.50" x2="253.53" y2="229.90" stroke="#ff0a6c" stroke-width="0.6"/>
<rect x="252.13" y="220.50" width="2.8" height="1.25" fill="#ff0a6c"/>
<line x1="257.80" y1="212.40" x2="257.80" y2="224.00" class="u"/><line x1="257.80" y1="212.40" x2="257.80" y2="224.00" stroke="#6ee6dc" stroke-width="0.6"/>
<rect x="256.40" y="214.00" width="2.8" height="7.10" fill="#6ee6dc"/>
<line x1="262.07" y1="201.10" x2="262.07" y2="221.10" class="u"/><line x1="262.07" y1="201.10" x2="262.07" y2="221.10" stroke="#6ee6dc" stroke-width="0.6"/>
<rect x="260.67" y="204.90" width="2.8" height="9.35" fill="#6ee6dc"/>
<line x1="266.33" y1="190.50" x2="266.33" y2="207.40" class="u"/><line x1="266.33" y1="190.50" x2="266.33" y2="207.40" stroke="#6ee6dc" stroke-width="0.6"/>
<rect x="264.93" y="198.00" width="2.8" height="8.10" fill="#6ee6dc"/>
<line x1="270.60" y1="184.25" x2="270.60" y2="204.25" class="u"/><line x1="270.60" y1="184.25" x2="270.60" y2="204.25" stroke="#6ee6dc" stroke-width="0.6"/>
<rect x="269.20" y="185.50" width="2.8" height="13.10" fill="#6ee6dc"/>
<line x1="274.87" y1="176.00" x2="274.87" y2="259.75" class="u"/><line x1="274.87" y1="176.00" x2="274.87" y2="259.75" stroke="#ff0a6c" stroke-width="0.6"/>
<rect x="273.47" y="185.50" width="2.8" height="63.10" fill="#ff0a6c"/>
<line x1="279.13" y1="196.75" x2="279.13" y2="260.75" class="u"/><line x1="279.13" y1="196.75" x2="279.13" y2="260.75" stroke="#6ee6dc" stroke-width="0.6"/>
<rect x="277.73" y="198.00" width="2.8" height="50.00" fill="#6ee6dc"/>
<line x1="283.40" y1="196.10" x2="283.40" y2="220.50" class="u"/><line x1="283.40" y1="196.10" x2="283.40" y2="220.50" stroke="#ff0a6c" stroke-width="0.6"/>
<rect x="282.00" y="199.00" width="2.8" height="4.00" fill="#ff0a6c"/>
<line x1="287.67" y1="192.75" x2="287.67" y2="229.90" class="u"/><line x1="287.67" y1="192.75" x2="287.67" y2="229.90" stroke="#ff0a6c" stroke-width="0.6"/>
<rect x="286.27" y="202.75" width="2.8" height="25.25" fill="#ff0a6c"/>
<line x1="291.93" y1="204.25" x2="291.93" y2="230.50" class="u"/><line x1="291.93" y1="204.25" x2="291.93" y2="230.50" stroke="#6ee6dc" stroke-width="0.6"/>
<rect x="290.53" y="207.00" width="2.8" height="21.00" fill="#6ee6dc"/>
<line x1="296.20" y1="186.25" x2="296.20" y2="209.25" class="u"/><line x1="296.20" y1="186.25" x2="296.20" y2="209.25" stroke="#6ee6dc" stroke-width="0.6"/>
<rect x="294.80" y="198.60" width="2.8" height="9.40" fill="#6ee6dc"/>
<line x1="300.47" y1="117.10" x2="300.47" y2="211.10" class="u"/><line x1="300.47" y1="117.10" x2="300.47" y2="211.10" stroke="#6ee6dc" stroke-width="0.6"/>
<rect x="299.07" y="145.60" width="2.8" height="53.65" fill="#6ee6dc"/>
<line x1="304.73" y1="98.75" x2="304.73" y2="151.90" class="u"/><line x1="304.73" y1="98.75" x2="304.73" y2="151.90" stroke="#6ee6dc" stroke-width="0.6"/>
<rect x="303.33" y="105.90" width="2.8" height="40.35" fill="#6ee6dc"/>
<line x1="309.00" y1="93.00" x2="309.00" y2="168.10" class="u"/><line x1="309.00" y1="93.00" x2="309.00" y2="168.10" stroke="#ff0a6c" stroke-width="0.6"/>
<rect x="307.60" y="104.60" width="2.8" height="44.15" fill="#ff0a6c"/>
<line x1="313.27" y1="122.50" x2="313.27" y2="154.40" class="u"/><line x1="313.27" y1="122.50" x2="313.27" y2="154.40" stroke="#6ee6dc" stroke-width="0.6"/>
<rect x="311.87" y="136.00" width="2.8" height="12.75" fill="#6ee6dc"/>
<line x1="317.53" y1="118.40" x2="317.53" y2="170.00" class="u"/><line x1="317.53" y1="118.40" x2="317.53" y2="170.00" stroke="#6ee6dc" stroke-width="0.6"/>
<rect x="316.13" y="124.00" width="2.8" height="12.90" fill="#6ee6dc"/>
<line x1="321.80" y1="110.50" x2="321.80" y2="130.40" class="u"/><line x1="321.80" y1="110.50" x2="321.80" y2="130.40" stroke="#6ee6dc" stroke-width="0.6"/>
<rect x="320.40" y="124.00" width="2.8" height="1.00" fill="#6ee6dc"/>
<line x1="326.07" y1="109.60" x2="326.07" y2="137.50" class="u"/><line x1="326.07" y1="109.60" x2="326.07" y2="137.50" stroke="#6ee6dc" stroke-width="0.6"/>
<rect x="324.67" y="110.50" width="2.8" height="13.50" fill="#6ee6dc"/>
<line x1="330.33" y1="97.10" x2="330.33" y2="119.00" class="u"/><line x1="330.33" y1="97.10" x2="330.33" y2="119.00" stroke="#6ee6dc" stroke-width="0.6"/>
<rect x="328.93" y="104.25" width="2.8" height="7.25" fill="#6ee6dc"/>
<line x1="334.60" y1="98.40" x2="334.60" y2="120.50" class="u"/><line x1="334.60" y1="98.40" x2="334.60" y2="120.50" stroke="#ff0a6c" stroke-width="0.6"/>
<rect x="333.20" y="105.00" width="2.8" height="15.50" fill="#ff0a6c"/>
<line x1="338.87" y1="103.00" x2="338.87" y2="120.00" class="u"/><line x1="338.87" y1="103.00" x2="338.87" y2="120.00" stroke="#6ee6dc" stroke-width="0.6"/>
<rect x="337.47" y="106.50" width="2.8" height="13.50" fill="#6ee6dc"/>
<line x1="343.13" y1="86.25" x2="343.13" y2="109.60" class="u"/><line x1="343.13" y1="86.25" x2="343.13" y2="109.60" stroke="#6ee6dc" stroke-width="0.6"/>
<rect x="341.73" y="100.00" width="2.8" height="7.10" fill="#6ee6dc"/>
<line x1="347.40" y1="100.00" x2="347.40" y2="125.25" class="u"/><line x1="347.40" y1="100.00" x2="347.40" y2="125.25" stroke="#ff0a6c" stroke-width="0.6"/>
<rect x="346.00" y="100.00" width="2.8" height="21.75" fill="#ff0a6c"/>
<line x1="351.67" y1="112.50" x2="351.67" y2="125.50" class="u"/><line x1="351.67" y1="112.50" x2="351.67" y2="125.50" stroke="#6ee6dc" stroke-width="0.6"/>
<rect x="350.27" y="117.10" width="2.8" height="4.65" fill="#6ee6dc"/>
<line x1="355.93" y1="113.00" x2="355.93" y2="127.75" class="u"/><line x1="355.93" y1="113.00" x2="355.93" y2="127.75" stroke="#ff0a6c" stroke-width="0.6"/>
<rect x="354.53" y="117.10" width="2.8" height="2.15" fill="#ff0a6c"/>
<line x1="360.20" y1="100.50" x2="360.20" y2="120.90" class="u"/><line x1="360.20" y1="100.50" x2="360.20" y2="120.90" stroke="#6ee6dc" stroke-width="0.6"/>
<rect x="358.80" y="103.75" width="2.8" height="15.85" fill="#6ee6dc"/>
<line x1="364.47" y1="102.10" x2="364.47" y2="114.00" class="u"/><line x1="364.47" y1="102.10" x2="364.47" y2="114.00" stroke="#ff0a6c" stroke-width="0.6"/>
<rect x="363.07" y="103.75" width="2.8" height="1.50" fill="#ff0a6c"/>
<line x1="368.73" y1="99.00" x2="368.73" y2="111.50" class="u"/><line x1="368.73" y1="99.00" x2="368.73" y2="111.50" stroke="#ff0a6c" stroke-width="0.6"/>
<rect x="367.33" y="104.60" width="2.8" height="1.30" fill="#ff0a6c"/>
<line x1="373.00" y1="90.25" x2="373.00" y2="105.90" class="u"/><line x1="373.00" y1="90.25" x2="373.00" y2="105.90" stroke="#6ee6dc" stroke-width="0.6"/>
<rect x="371.60" y="100.00" width="2.8" height="5.90" fill="#6ee6dc"/>
<line x1="377.27" y1="82.50" x2="377.27" y2="105.00" class="u"/><line x1="377.27" y1="82.50" x2="377.27" y2="105.00" stroke="#6ee6dc" stroke-width="0.6"/>
<rect x="375.87" y="98.00" width="2.8" height="2.90" fill="#6ee6dc"/>
<line x1="381.53" y1="79.10" x2="381.53" y2="118.40" class="u"/><line x1="381.53" y1="79.10" x2="381.53" y2="118.40" stroke="#6ee6dc" stroke-width="0.6"/>
<rect x="380.13" y="90.50" width="2.8" height="8.25" fill="#6ee6dc"/>
<line x1="385.80" y1="84.60" x2="385.80" y2="114.60" class="u"/><line x1="385.80" y1="84.60" x2="385.80" y2="114.60" stroke="#ff0a6c" stroke-width="0.6"/>
<rect x="384.40" y="90.50" width="2.8" height="7.50" fill="#ff0a6c"/>
<line x1="390.07" y1="97.50" x2="390.07" y2="114.60" class="u"/><line x1="390.07" y1="97.50" x2="390.07" y2="114.60" stroke="#ff0a6c" stroke-width="0.6"/>
<rect x="388.67" y="97.50" width="2.8" height="1.50" fill="#ff0a6c"/>
<line x1="394.33" y1="86.25" x2="394.33" y2="105.90" class="u"/><line x1="394.33" y1="86.25" x2="394.33" y2="105.90" stroke="#6ee6dc" stroke-width="0.6"/>
<rect x="392.93" y="88.40" width="2.8" height="10.35" fill="#6ee6dc"/>
<line x1="398.60" y1="80.00" x2="398.60" y2="102.10" class="u"/><line x1="398.60" y1="80.00" x2="398.60" y2="102.10" stroke="#6ee6dc" stroke-width="0.6"/>
<rect x="397.20" y="88.25" width="2.8" height="0.90" fill="#6ee6dc"/>
<line x1="402.87" y1="84.00" x2="402.87" y2="212.20" class="u"/><line x1="402.87" y1="84.00" x2="402.87" y2="212.20" stroke="#ff0a6c" stroke-width="0.6"/>
<rect x="401.47" y="88.00" width="2.8" height="111.40" fill="#ff0a6c"/>
<line x1="407.13" y1="144.10" x2="407.13" y2="217.00" class="u"/><line x1="407.13" y1="144.10" x2="407.13" y2="217.00" stroke="#6ee6dc" stroke-width="0.6"/>
<rect x="405.73" y="167.90" width="2.8" height="31.20" fill="#6ee6dc"/>
<line x1="411.40" y1="157.25" x2="411.40" y2="194.10" class="u"/><line x1="411.40" y1="157.25" x2="411.40" y2="194.10" stroke="#6ee6dc" stroke-width="0.6"/>
<rect x="410.00" y="164.75" width="2.8" height="4.00" fill="#6ee6dc"/>
<line x1="415.67" y1="102.10" x2="415.67" y2="173.50" class="u"/><line x1="415.67" y1="102.10" x2="415.67" y2="173.50" stroke="#6ee6dc" stroke-width="0.6"/>
<rect x="414.27" y="110.00" width="2.8" height="55.00" fill="#6ee6dc"/>
<line x1="419.93" y1="93.00" x2="419.93" y2="115.25" class="u"/><line x1="419.93" y1="93.00" x2="419.93" y2="115.25" stroke="#6ee6dc" stroke-width="0.6"/>
<rect x="418.53" y="103.00" width="2.8" height="7.50" fill="#6ee6dc"/>
<line x1="424.20" y1="94.00" x2="424.20" y2="111.50" class="u"/><line x1="424.20" y1="94.00" x2="424.20" y2="111.50" stroke="#ff0a6c" stroke-width="0.6"/>
<rect x="422.80" y="103.00" width="2.8" height="7.50" fill="#ff0a6c"/>
<line x1="428.47" y1="89.60" x2="428.47" y2="121.50" class="u"/><line x1="428.47" y1="89.60" x2="428.47" y2="121.50" stroke="#6ee6dc" stroke-width="0.6"/>
<rect x="427.07" y="90.25" width="2.8" height="20.25" fill="#6ee6dc"/>
<line x1="432.73" y1="85.25" x2="432.73" y2="96.75" class="u"/><line x1="432.73" y1="85.25" x2="432.73" y2="96.75" stroke="#ff0a6c" stroke-width="0.6"/>
<rect x="431.33" y="90.00" width="2.8" height="4.00" fill="#ff0a6c"/>
<line x1="437.00" y1="82.50" x2="437.00" y2="94.25" class="u"/><line x1="437.00" y1="82.50" x2="437.00" y2="94.25" stroke="#6ee6dc" stroke-width="0.6"/>
<rect x="435.60" y="85.00" width="2.8" height="9.25" fill="#6ee6dc"/>
<line x1="441.27" y1="83.40" x2="441.27" y2="104.00" class="u"/><line x1="441.27" y1="83.40" x2="441.27" y2="104.00" stroke="#6ee6dc" stroke-width="0.6"/>
<rect x="439.87" y="90.00" width="2.8" height="11.75" fill="#6ee6dc"/>
<line x1="445.53" y1="80.90" x2="445.53" y2="96.75" class="u"/><line x1="445.53" y1="80.90" x2="445.53" y2="96.75" stroke="#6ee6dc" stroke-width="0.6"/>
<rect x="444.13" y="80.90" width="2.8" height="9.10" fill="#6ee6dc"/>
<line x1="449.80" y1="76.25" x2="449.80" y2="86.75" class="u"/><line x1="449.80" y1="76.25" x2="449.80" y2="86.75" stroke="#ff0a6c" stroke-width="0.6"/>
<rect x="448.40" y="81.25" width="2.8" height="1.75" fill="#ff0a6c"/>
<line x1="454.07" y1="45.10" x2="454.07" y2="83.40" class="u"/><line x1="454.07" y1="45.10" x2="454.07" y2="83.40" stroke="#6ee6dc" stroke-width="0.6"/>
<rect x="452.67" y="52.00" width="2.8" height="31.25" fill="#6ee6dc"/>
<line x1="458.33" y1="47.25" x2="458.33" y2="65.75" class="u"/><line x1="458.33" y1="47.25" x2="458.33" y2="65.75" stroke="#6ee6dc" stroke-width="0.6"/>
<rect x="456.93" y="50.10" width="2.8" height="2.50" fill="#6ee6dc"/>
<line x1="462.60" y1="33.25" x2="462.60" y2="53.90" class="u"/><line x1="462.60" y1="33.25" x2="462.60" y2="53.90" stroke="#6ee6dc" stroke-width="0.6"/>
<rect x="461.20" y="38.00" width="2.8" height="11.50" fill="#6ee6dc"/>
<line x1="466.87" y1="34.25" x2="466.87" y2="42.60" class="u"/><line x1="466.87" y1="34.25" x2="466.87" y2="42.60" stroke="#6ee6dc" stroke-width="0.6"/>
<rect x="465.47" y="37.00" width="2.8" height="1.25" fill="#6ee6dc"/>
<line x1="471.13" y1="32.00" x2="471.13" y2="44.75" class="u"/><line x1="471.13" y1="32.00" x2="471.13" y2="44.75" stroke="#6ee6dc" stroke-width="0.6"/>
<rect x="469.73" y="34.75" width="2.8" height="2.00" fill="#6ee6dc"/>
<line x1="475.40" y1="34.75" x2="475.40" y2="52.60" class="u"/><line x1="475.40" y1="34.75" x2="475.40" y2="52.60" stroke="#ff0a6c" stroke-width="0.6"/>
<rect x="474.00" y="34.75" width="2.8" height="17.25" fill="#ff0a6c"/>
<line x1="479.67" y1="48.90" x2="479.67" y2="97.50" class="u"/><line x1="479.67" y1="48.90" x2="479.67" y2="97.50" stroke="#ff0a6c" stroke-width="0.6"/>
<rect x="478.27" y="51.00" width="2.8" height="36.50" fill="#ff0a6c"/>
<line x1="483.93" y1="68.50" x2="483.93" y2="93.75" class="u"/><line x1="483.93" y1="68.50" x2="483.93" y2="93.75" stroke="#6ee6dc" stroke-width="0.6"/>
<rect x="482.53" y="68.75" width="2.8" height="18.75" fill="#6ee6dc"/>
<line x1="488.20" y1="55.10" x2="488.20" y2="77.00" class="u"/><line x1="488.20" y1="55.10" x2="488.20" y2="77.00" stroke="#6ee6dc" stroke-width="0.6"/>
<rect x="486.80" y="63.00" width="2.8" height="5.90" fill="#6ee6dc"/>
<line x1="492.47" y1="62.00" x2="492.47" y2="110.50" class="u"/><line x1="492.47" y1="62.00" x2="492.47" y2="110.50" stroke="#ff0a6c" stroke-width="0.6"/>
<rect x="491.07" y="62.60" width="2.8" height="27.90" fill="#ff0a6c"/>
<line x1="496.73" y1="42.00" x2="496.73" y2="99.00" class="u"/><line x1="496.73" y1="42.00" x2="496.73" y2="99.00" stroke="#6ee6dc" stroke-width="0.6"/>
<rect x="495.33" y="56.40" width="2.8" height="34.10" fill="#6ee6dc"/>
<line x1="501.00" y1="21.00" x2="501.00" y2="62.00" class="u"/><line x1="501.00" y1="21.00" x2="501.00" y2="62.00" stroke="#6ee6dc" stroke-width="0.6"/>
<rect x="499.60" y="27.00" width="2.8" height="30.00" fill="#6ee6dc"/>
<line x1="505.27" y1="22.00" x2="505.27" y2="57.60" class="u"/><line x1="505.27" y1="22.00" x2="505.27" y2="57.60" stroke="#ff0a6c" stroke-width="0.6"/>
<rect x="503.87" y="26.75" width="2.8" height="29.00" fill="#ff0a6c"/>
<line x1="509.53" y1="52.00" x2="509.53" y2="76.00" class="u"/><line x1="509.53" y1="52.00" x2="509.53" y2="76.00" stroke="#ff0a6c" stroke-width="0.6"/>
<rect x="508.13" y="55.10" width="2.8" height="19.40" fill="#ff0a6c"/>
<line x1="513.80" y1="86.25" x2="513.80" y2="129.50" class="u"/><line x1="513.80" y1="86.25" x2="513.80" y2="129.50" stroke="#ff0a6c" stroke-width="0.6"/>
<rect x="512.40" y="97.25" width="2.8" height="6.50" fill="#ff0a6c"/>
<line x1="518.07" y1="88.10" x2="518.07" y2="144.60" class="u"/><line x1="518.07" y1="88.10" x2="518.07" y2="144.60" stroke="#ff0a6c" stroke-width="0.6"/>
<rect x="516.67" y="103.10" width="2.8" height="38.40" fill="#ff0a6c"/>
<line x1="522.33" y1="114.40" x2="522.33" y2="144.60" class="u"/><line x1="522.33" y1="114.40" x2="522.33" y2="144.60" stroke="#6ee6dc" stroke-width="0.6"/>
<rect x="520.93" y="138.75" width="2.8" height="2.75" fill="#6ee6dc"/>
<line x1="526.60" y1="125.60" x2="526.60" y2="140.25" class="u"/><line x1="526.60" y1="125.60" x2="526.60" y2="140.25" stroke="#6ee6dc" stroke-width="0.6"/>
<rect x="525.20" y="135.90" width="2.8" height="2.85" fill="#6ee6dc"/>
<line x1="530.87" y1="134.60" x2="530.87" y2="155.25" class="u"/><line x1="530.87" y1="134.60" x2="530.87" y2="155.25" stroke="#ff0a6c" stroke-width="0.6"/>
<rect x="529.47" y="135.90" width="2.8" height="6.85" fill="#ff0a6c"/>
<line x1="535.13" y1="136.50" x2="535.13" y2="156.75" class="u"/><line x1="535.13" y1="136.50" x2="535.13" y2="156.75" stroke="#ff0a6c" stroke-width="0.6"/>
<rect x="533.73" y="142.10" width="2.8" height="9.15" fill="#ff0a6c"/>
<line x1="539.40" y1="139.00" x2="539.40" y2="152.50" class="u"/><line x1="539.40" y1="139.00" x2="539.40" y2="152.50" stroke="#6ee6dc" stroke-width="0.6"/>
<rect x="538.00" y="150.00" width="2.8" height="1.75" fill="#6ee6dc"/>
<line x1="543.67" y1="139.60" x2="543.67" y2="156.75" class="u"/><line x1="543.67" y1="139.60" x2="543.67" y2="156.75" stroke="#6ee6dc" stroke-width="0.6"/>
<rect x="542.27" y="140.50" width="2.8" height="11.25" fill="#6ee6dc"/>
<line x1="547.93" y1="135.25" x2="547.93" y2="143.00" class="u"/><line x1="547.93" y1="135.25" x2="547.93" y2="143.00" stroke="#6ee6dc" stroke-width="0.6"/>
<rect x="546.53" y="137.75" width="2.8" height="3.50" fill="#6ee6dc"/>
<line x1="552.20" y1="120.00" x2="552.20" y2="139.00" class="u"/><line x1="552.20" y1="120.00" x2="552.20" y2="139.00" stroke="#6ee6dc" stroke-width="0.6"/>
<rect x="550.80" y="120.60" width="2.8" height="17.80" fill="#6ee6dc"/>
<line x1="556.47" y1="110.60" x2="556.47" y2="128.50" class="u"/><line x1="556.47" y1="110.60" x2="556.47" y2="128.50" stroke="#6ee6dc" stroke-width="0.6"/>
<rect x="555.07" y="120.40" width="2.8" height="1.50" fill="#6ee6dc"/>
<line x1="560.73" y1="115.00" x2="560.73" y2="143.75" class="u"/><line x1="560.73" y1="115.00" x2="560.73" y2="143.75" stroke="#ff0a6c" stroke-width="0.6"/>
<rect x="559.33" y="121.00" width="2.8" height="15.50" fill="#ff0a6c"/>
<line x1="565.00" y1="121.25" x2="565.00" y2="147.75" class="u"/><line x1="565.00" y1="121.25" x2="565.00" y2="147.75" stroke="#ff0a6c" stroke-width="0.6"/>
<rect x="563.60" y="135.25" width="2.8" height="7.25" fill="#ff0a6c"/>
<line x1="569.27" y1="134.60" x2="569.27" y2="145.50" class="u"/><line x1="569.27" y1="134.60" x2="569.27" y2="145.50" stroke="#ff0a6c" stroke-width="0.6"/>
<rect x="567.87" y="142.10" width="2.8" height="2.90" fill="#ff0a6c"/>
<line x1="573.53" y1="138.75" x2="573.53" y2="153.75" class="u"/><line x1="573.53" y1="138.75" x2="573.53" y2="153.75" stroke="#6ee6dc" stroke-width="0.6"/>
<rect x="572.13" y="139.60" width="2.8" height="5.00" fill="#6ee6dc"/>
<line x1="577.80" y1="139.00" x2="577.80" y2="162.50" class="u"/><line x1="577.80" y1="139.00" x2="577.80" y2="162.50" stroke="#ff0a6c" stroke-width="0.6"/>
<rect x="576.40" y="139.60" width="2.8" height="12.15" fill="#ff0a6c"/>
<line x1="582.07" y1="135.25" x2="582.07" y2="161.75" class="u"/><line x1="582.07" y1="135.25" x2="582.07" y2="161.75" stroke="#6ee6dc" stroke-width="0.6"/>
<rect x="580.67" y="144.60" width="2.8" height="8.40" fill="#6ee6dc"/>
<line x1="586.33" y1="121.90" x2="586.33" y2="155.00" class="u"/><line x1="586.33" y1="121.90" x2="586.33" y2="155.00" stroke="#6ee6dc" stroke-width="0.6"/>
<rect x="584.93" y="143.85" width="2.8" height="0.90" fill="#6ee6dc"/>
<line x1="590.60" y1="129.00" x2="590.60" y2="159.00" class="u"/><line x1="590.60" y1="129.00" x2="590.60" y2="159.00" stroke="#6ee6dc" stroke-width="0.6"/>
<rect x="589.20" y="140.00" width="2.8" height="4.60" fill="#6ee6dc"/>
<line x1="594.87" y1="123.10" x2="594.87" y2="143.40" class="u"/><line x1="594.87" y1="123.10" x2="594.87" y2="143.40" stroke="#6ee6dc" stroke-width="0.6"/>
<rect x="593.47" y="130.90" width="2.8" height="10.00" fill="#6ee6dc"/>
<line x1="599.13" y1="106.00" x2="599.13" y2="139.60" class="u"/><line x1="599.13" y1="106.00" x2="599.13" y2="139.60" stroke="#6ee6dc" stroke-width="0.6"/>
<rect x="597.73" y="112.75" width="2.8" height="19.00" fill="#6ee6dc"/>
<line x1="603.40" y1="93.75" x2="603.40" y2="117.75" class="u"/><line x1="603.40" y1="93.75" x2="603.40" y2="117.75" stroke="#6ee6dc" stroke-width="0.6"/>
<rect x="602.00" y="102.75" width="2.8" height="11.00" fill="#6ee6dc"/>
<line x1="607.67" y1="102.50" x2="607.67" y2="130.00" class="u"/><line x1="607.67" y1="102.50" x2="607.67" y2="130.00" stroke="#ff0a6c" stroke-width="0.6"/>
<rect x="606.27" y="102.75" width="2.8" height="15.00" fill="#ff0a6c"/>
<line x1="611.93" y1="110.60" x2="611.93" y2="134.00" class="u"/><line x1="611.93" y1="110.60" x2="611.93" y2="134.00" stroke="#ff0a6c" stroke-width="0.6"/>
<rect x="610.53" y="116.90" width="2.8" height="15.20" fill="#ff0a6c"/>
<line x1="616.20" y1="121.25" x2="616.20" y2="150.00" class="u"/><line x1="616.20" y1="121.25" x2="616.20" y2="150.00" stroke="#ff0a6c" stroke-width="0.6"/>
<rect x="614.80" y="132.10" width="2.8" height="1.90" fill="#ff0a6c"/>
<line x1="620.47" y1="98.75" x2="620.47" y2="139.00" class="u"/><line x1="620.47" y1="98.75" x2="620.47" y2="139.00" stroke="#ff0a6c" stroke-width="0.6"/>
<rect x="619.07" y="134.60" width="2.8" height="4.15" fill="#ff0a6c"/>
<line x1="624.73" y1="137.75" x2="624.73" y2="157.50" class="u"/><line x1="624.73" y1="137.75" x2="624.73" y2="157.50" stroke="#ff0a6c" stroke-width="0.6"/>
<rect x="623.33" y="137.90" width="2.8" height="16.85" fill="#ff0a6c"/>
<line x1="629.00" y1="154.00" x2="629.00" y2="177.00" class="u"/><line x1="629.00" y1="154.00" x2="629.00" y2="177.00" stroke="#ff0a6c" stroke-width="0.6"/>
<rect x="627.60" y="154.10" width="2.8" height="22.50" fill="#ff0a6c"/>
<line x1="633.27" y1="170.40" x2="633.27" y2="181.60" class="u"/><line x1="633.27" y1="170.40" x2="633.27" y2="181.60" stroke="#ff0a6c" stroke-width="0.6"/>
<rect x="631.87" y="176.00" width="2.8" height="1.50" fill="#ff0a6c"/>
<line x1="637.53" y1="166.25" x2="637.53" y2="178.50" class="u"/><line x1="637.53" y1="166.25" x2="637.53" y2="178.50" stroke="#6ee6dc" stroke-width="0.6"/>
<rect x="636.13" y="169.10" width="2.8" height="8.15" fill="#6ee6dc"/>
<line x1="641.80" y1="168.50" x2="641.80" y2="180.00" class="u"/><line x1="641.80" y1="168.50" x2="641.80" y2="180.00" stroke="#ff0a6c" stroke-width="0.6"/>
<rect x="640.40" y="169.10" width="2.8" height="10.00" fill="#ff0a6c"/>
<line x1="646.07" y1="171.00" x2="646.07" y2="181.30" class="u"/><line x1="646.07" y1="171.00" x2="646.07" y2="181.30" stroke="#6ee6dc" stroke-width="0.6"/>
<rect x="644.67" y="174.10" width="2.8" height="6.90" fill="#6ee6dc"/>
<line x1="650.33" y1="169.50" x2="650.33" y2="176.00" class="u"/><line x1="650.33" y1="169.50" x2="650.33" y2="176.00" stroke="#6ee6dc" stroke-width="0.6"/>
<rect x="648.93" y="172.25" width="2.8" height="3.15" fill="#6ee6dc"/>
<line x1="654.60" y1="171.60" x2="654.60" y2="185.40" class="u"/><line x1="654.60" y1="171.60" x2="654.60" y2="185.40" stroke="#ff0a6c" stroke-width="0.6"/>
<rect x="653.20" y="172.25" width="2.8" height="7.50" fill="#ff0a6c"/>
<line x1="658.87" y1="164.10" x2="658.87" y2="186.60" class="u"/><line x1="658.87" y1="164.10" x2="658.87" y2="186.60" stroke="#6ee6dc" stroke-width="0.6"/>
<rect x="657.47" y="165.00" width="2.8" height="14.75" fill="#6ee6dc"/>
<line x1="663.13" y1="161.00" x2="663.13" y2="175.00" class="u"/><line x1="663.13" y1="161.00" x2="663.13" y2="175.00" stroke="#ff0a6c" stroke-width="0.6"/>
<rect x="661.73" y="165.40" width="2.8" height="8.70" fill="#ff0a6c"/>
<line x1="667.40" y1="171.60" x2="667.40" y2="184.50" class="u"/><line x1="667.40" y1="171.60" x2="667.40" y2="184.50" stroke="#6ee6dc" stroke-width="0.6"/>
<rect x="666.00" y="172.50" width="2.8" height="1.25" fill="#6ee6dc"/>
<line x1="671.67" y1="170.75" x2="671.67" y2="182.90" class="u"/><line x1="671.67" y1="170.75" x2="671.67" y2="182.90" stroke="#ff0a6c" stroke-width="0.6"/>
<rect x="670.27" y="172.25" width="2.8" height="4.35" fill="#ff0a6c"/>
<line x1="675.93" y1="167.25" x2="675.93" y2="178.50" class="u"/><line x1="675.93" y1="167.25" x2="675.93" y2="178.50" stroke="#6ee6dc" stroke-width="0.6"/>
<rect x="674.53" y="172.90" width="2.8" height="3.70" fill="#6ee6dc"/>
<line x1="680.20" y1="171.60" x2="680.20" y2="195.75" class="u"/><line x1="680.20" y1="171.60" x2="680.20" y2="195.75" stroke="#ff0a6c" stroke-width="0.6"/>
<rect x="678.80" y="172.50" width="2.8" height="21.60" fill="#ff0a6c"/>
<line x1="684.47" y1="172.25" x2="684.47" y2="201.00" class="u"/><line x1="684.47" y1="172.25" x2="684.47" y2="201.00" stroke="#6ee6dc" stroke-width="0.6"/>
<rect x="683.07" y="181.25" width="2.8" height="12.85" fill="#6ee6dc"/>
<line x1="688.73" y1="157.00" x2="688.73" y2="193.50" class="u"/><line x1="688.73" y1="157.00" x2="688.73" y2="193.50" stroke="#6ee6dc" stroke-width="0.6"/>
<rect x="687.33" y="159.10" width="2.8" height="22.50" fill="#6ee6dc"/>
<line x1="693.00" y1="152.00" x2="693.00" y2="173.30" class="u"/><line x1="693.00" y1="152.00" x2="693.00" y2="173.30" stroke="#ff0a6c" stroke-width="0.6"/>
<rect x="691.60" y="159.10" width="2.8" height="2.50" fill="#ff0a6c"/>
<line x1="697.27" y1="125.00" x2="697.27" y2="165.80" class="u"/><line x1="697.27" y1="125.00" x2="697.27" y2="165.80" stroke="#6ee6dc" stroke-width="0.6"/>
<rect x="695.87" y="133.10" width="2.8" height="28.80" fill="#6ee6dc"/>
<line x1="701.53" y1="127.40" x2="701.53" y2="146.25" class="u"/><line x1="701.53" y1="127.40" x2="701.53" y2="146.25" stroke="#ff0a6c" stroke-width="0.6"/>
<rect x="700.13" y="133.10" width="2.8" height="13.15" fill="#ff0a6c"/>
<line x1="705.80" y1="86.25" x2="705.80" y2="150.20" class="u"/><line x1="705.80" y1="86.25" x2="705.80" y2="150.20" stroke="#6ee6dc" stroke-width="0.6"/>
<rect x="704.40" y="90.00" width="2.8" height="56.25" fill="#6ee6dc"/>
<line x1="710.07" y1="77.25" x2="710.07" y2="109.75" class="u"/><line x1="710.07" y1="77.25" x2="710.07" y2="109.75" stroke="#6ee6dc" stroke-width="0.6"/>
<rect x="708.67" y="82.75" width="2.8" height="7.85" fill="#6ee6dc"/>
<line x1="714.33" y1="74.40" x2="714.33" y2="114.40" class="u"/><line x1="714.33" y1="74.40" x2="714.33" y2="114.40" stroke="#ff0a6c" stroke-width="0.6"/>
<rect x="712.93" y="82.75" width="2.8" height="31.00" fill="#ff0a6c"/>
<line x1="718.60" y1="98.75" x2="718.60" y2="140.00" class="u"/><line x1="718.60" y1="98.75" x2="718.60" y2="140.00" stroke="#ff0a6c" stroke-width="0.6"/>
<rect x="717.20" y="113.10" width="2.8" height="15.65" fill="#ff0a6c"/>
<line x1="722.87" y1="120.60" x2="722.87" y2="147.40" class="u"/><line x1="722.87" y1="120.60" x2="722.87" y2="147.40" stroke="#ff0a6c" stroke-width="0.6"/>
<rect x="721.47" y="127.75" width="2.8" height="1.25" fill="#ff0a6c"/>
<line x1="727.13" y1="106.90" x2="727.13" y2="135.10" class="u"/><line x1="727.13" y1="106.90" x2="727.13" y2="135.10" stroke="#6ee6dc" stroke-width="0.6"/>
<rect x="725.73" y="111.90" width="2.8" height="16.85" fill="#6ee6dc"/>
<line x1="731.40" y1="99.40" x2="731.40" y2="121.25" class="u"/><line x1="731.40" y1="99.40" x2="731.40" y2="121.25" stroke="#ff0a6c" stroke-width="0.6"/>
<rect x="730.00" y="111.90" width="2.8" height="9.35" fill="#ff0a6c"/>
<line x1="735.67" y1="109.40" x2="735.67" y2="125.90" class="u"/><line x1="735.67" y1="109.40" x2="735.67" y2="125.90" stroke="#6ee6dc" stroke-width="0.6"/>
<rect x="734.27" y="116.25" width="2.8" height="5.25" fill="#6ee6dc"/>
<line x1="739.93" y1="113.10" x2="739.93" y2="130.60" class="u"/><line x1="739.93" y1="113.10" x2="739.93" y2="130.60" stroke="#ff0a6c" stroke-width="0.6"/>
<rect x="738.53" y="116.25" width="2.8" height="5.65" fill="#ff0a6c"/>
<line x1="744.20" y1="118.50" x2="744.20" y2="129.40" class="u"/><line x1="744.20" y1="118.50" x2="744.20" y2="129.40" stroke="#ff0a6c" stroke-width="0.6"/>
<rect x="742.80" y="121.50" width="2.8" height="6.60" fill="#ff0a6c"/>
<line x1="748.47" y1="120.00" x2="748.47" y2="131.10" class="u"/><line x1="748.47" y1="120.00" x2="748.47" y2="131.10" stroke="#6ee6dc" stroke-width="0.6"/>
<rect x="747.07" y="125.00" width="2.8" height="3.30" fill="#6ee6dc"/>
<line x1="752.73" y1="115.25" x2="752.73" y2="125.50" class="u"/><line x1="752.73" y1="115.25" x2="752.73" y2="125.50" stroke="#6ee6dc" stroke-width="0.6"/>
<rect x="751.33" y="119.40" width="2.8" height="5.60" fill="#6ee6dc"/>
<line x1="757.00" y1="115.25" x2="757.00" y2="131.50" class="u"/><line x1="757.00" y1="115.25" x2="757.00" y2="131.50" stroke="#ff0a6c" stroke-width="0.6"/>
<rect x="755.60" y="119.40" width="2.8" height="11.85" fill="#ff0a6c"/>
<line x1="761.27" y1="128.10" x2="761.27" y2="140.00" class="u"/><line x1="761.27" y1="128.10" x2="761.27" y2="140.00" stroke="#ff0a6c" stroke-width="0.6"/>
<rect x="759.87" y="131.00" width="2.8" height="1.50" fill="#ff0a6c"/>
<line x1="765.53" y1="124.40" x2="765.53" y2="140.00" class="u"/><line x1="765.53" y1="124.40" x2="765.53" y2="140.00" stroke="#ff0a6c" stroke-width="0.6"/>
<rect x="764.13" y="131.00" width="2.8" height="8.40" fill="#ff0a6c"/>
<line x1="769.80" y1="127.00" x2="769.80" y2="140.00" class="u"/><line x1="769.80" y1="127.00" x2="769.80" y2="140.00" stroke="#6ee6dc" stroke-width="0.6"/>
<rect x="768.40" y="127.75" width="2.8" height="11.65" fill="#6ee6dc"/>
<line x1="774.07" y1="127.00" x2="774.07" y2="140.00" class="u"/><line x1="774.07" y1="127.00" x2="774.07" y2="140.00" stroke="#ff0a6c" stroke-width="0.6"/>
<rect x="772.67" y="127.75" width="2.8" height="4.15" fill="#ff0a6c"/>
<line x1="778.33" y1="126.10" x2="778.33" y2="140.80" class="u"/><line x1="778.33" y1="126.10" x2="778.33" y2="140.80" stroke="#6ee6dc" stroke-width="0.6"/>
<rect x="776.93" y="128.90" width="2.8" height="3.00" fill="#6ee6dc"/>
<line x1="782.60" y1="111.00" x2="782.60" y2="130.60" class="u"/><line x1="782.60" y1="111.00" x2="782.60" y2="130.60" stroke="#6ee6dc" stroke-width="0.6"/>
<rect x="781.20" y="117.25" width="2.8" height="12.50" fill="#6ee6dc"/>
<line x1="786.87" y1="96.50" x2="786.87" y2="122.50" class="u"/><line x1="786.87" y1="96.50" x2="786.87" y2="122.50" stroke="#6ee6dc" stroke-width="0.6"/>
<rect x="785.47" y="102.25" width="2.8" height="15.50" fill="#6ee6dc"/>
<line x1="791.13" y1="101.00" x2="791.13" y2="118.75" class="u"/><line x1="791.13" y1="101.00" x2="791.13" y2="118.75" stroke="#6ee6dc" stroke-width="0.6"/>
<rect x="789.73" y="101.25" width="2.8" height="1.50" fill="#6ee6dc"/>
<line x1="795.40" y1="100.90" x2="795.40" y2="146.25" class="u"/><line x1="795.40" y1="100.90" x2="795.40" y2="146.25" stroke="#ff0a6c" stroke-width="0.6"/>
<rect x="794.00" y="101.25" width="2.8" height="38.75" fill="#ff0a6c"/>
<line x1="799.67" y1="116.90" x2="799.67" y2="144.40" class="u"/><line x1="799.67" y1="116.90" x2="799.67" y2="144.40" stroke="#6ee6dc" stroke-width="0.6"/>
<rect x="798.27" y="117.25" width="2.8" height="22.75" fill="#6ee6dc"/>
<line x1="803.93" y1="116.90" x2="803.93" y2="143.10" class="u"/><line x1="803.93" y1="116.90" x2="803.93" y2="143.10" stroke="#ff0a6c" stroke-width="0.6"/>
<rect x="802.53" y="117.25" width="2.8" height="5.65" fill="#ff0a6c"/>
<line x1="808.20" y1="104.70" x2="808.20" y2="126.25" class="u"/><line x1="808.20" y1="104.70" x2="808.20" y2="126.25" stroke="#6ee6dc" stroke-width="0.6"/>
<rect x="806.80" y="110.60" width="2.8" height="12.80" fill="#6ee6dc"/>
<line x1="812.47" y1="95.40" x2="812.47" y2="121.25" class="u"/><line x1="812.47" y1="95.40" x2="812.47" y2="121.25" stroke="#6ee6dc" stroke-width="0.6"/>
<rect x="811.07" y="109.00" width="2.8" height="2.25" fill="#6ee6dc"/>
<line x1="816.73" y1="85.30" x2="816.73" y2="112.80" class="u"/><line x1="816.73" y1="85.30" x2="816.73" y2="112.80" stroke="#6ee6dc" stroke-width="0.6"/>
<rect x="815.33" y="86.80" width="2.8" height="22.60" fill="#6ee6dc"/>
<line x1="821.00" y1="74.60" x2="821.00" y2="92.00" class="u"/><line x1="821.00" y1="74.60" x2="821.00" y2="92.00" stroke="#6ee6dc" stroke-width="0.6"/>
<rect x="819.60" y="79.25" width="2.8" height="8.35" fill="#6ee6dc"/>
<line x1="825.27" y1="55.90" x2="825.27" y2="93.40" class="u"/><line x1="825.27" y1="55.90" x2="825.27" y2="93.40" stroke="#6ee6dc" stroke-width="0.6"/>
<rect x="823.87" y="71.75" width="2.8" height="8.25" fill="#6ee6dc"/>
<line x1="829.53" y1="67.10" x2="829.53" y2="87.75" class="u"/><line x1="829.53" y1="67.10" x2="829.53" y2="87.75" stroke="#ff0a6c" stroke-width="0.6"/>
<rect x="828.13" y="72.50" width="2.8" height="9.25" fill="#ff0a6c"/>
<line x1="833.80" y1="59.60" x2="833.80" y2="88.40" class="u"/><line x1="833.80" y1="59.60" x2="833.80" y2="88.40" stroke="#6ee6dc" stroke-width="0.6"/>
<rect x="832.40" y="64.25" width="2.8" height="17.50" fill="#6ee6dc"/>
<line x1="838.07" y1="57.50" x2="838.07" y2="79.60" class="u"/><line x1="838.07" y1="57.50" x2="838.07" y2="79.60" stroke="#6ee6dc" stroke-width="0.6"/>
<rect x="836.67" y="61.75" width="2.8" height="2.85" fill="#6ee6dc"/>
<line x1="842.33" y1="60.90" x2="842.33" y2="70.00" class="u"/><line x1="842.33" y1="60.90" x2="842.33" y2="70.00" stroke="#ff0a6c" stroke-width="0.6"/>
<rect x="840.93" y="61.75" width="2.8" height="6.00" fill="#ff0a6c"/>
<line x1="846.60" y1="63.00" x2="846.60" y2="79.60" class="u"/><line x1="846.60" y1="63.00" x2="846.60" y2="79.60" stroke="#ff0a6c" stroke-width="0.6"/>
<rect x="845.20" y="67.50" width="2.8" height="1.50" fill="#ff0a6c"/>
<line x1="850.87" y1="64.60" x2="850.87" y2="74.00" class="u"/><line x1="850.87" y1="64.60" x2="850.87" y2="74.00" stroke="#6ee6dc" stroke-width="0.6"/>
<rect x="849.47" y="67.75" width="2.8" height="1.25" fill="#6ee6dc"/>
<line x1="855.13" y1="58.00" x2="855.13" y2="68.20" class="u"/><line x1="855.13" y1="58.00" x2="855.13" y2="68.20" stroke="#ff0a6c" stroke-width="0.6"/>
<rect x="853.73" y="66.75" width="2.8" height="1.25" fill="#ff0a6c"/>
<line x1="859.40" y1="61.00" x2="859.40" y2="71.75" class="u"/><line x1="859.40" y1="61.00" x2="859.40" y2="71.75" stroke="#6ee6dc" stroke-width="0.6"/>
<rect x="858.00" y="61.25" width="2.8" height="6.50" fill="#6ee6dc"/>
<line x1="863.67" y1="32.10" x2="863.67" y2="63.00" class="u"/><line x1="863.67" y1="32.10" x2="863.67" y2="63.00" stroke="#6ee6dc" stroke-width="0.6"/>
<rect x="862.27" y="39.25" width="2.8" height="22.50" fill="#6ee6dc"/>
<line x1="867.93" y1="37.10" x2="867.93" y2="55.25" class="u"/><line x1="867.93" y1="37.10" x2="867.93" y2="55.25" stroke="#ff0a6c" stroke-width="0.6"/>
<rect x="866.53" y="39.25" width="2.8" height="6.00" fill="#ff0a6c"/>
<line x1="872.20" y1="33.00" x2="872.20" y2="46.00" class="u"/><line x1="872.20" y1="33.00" x2="872.20" y2="46.00" stroke="#6ee6dc" stroke-width="0.6"/>
<rect x="870.80" y="37.10" width="2.8" height="8.80" fill="#6ee6dc"/>
<line x1="876.47" y1="35.00" x2="876.47" y2="43.90" class="u"/><line x1="876.47" y1="35.00" x2="876.47" y2="43.90" stroke="#ff0a6c" stroke-width="0.6"/>
<rect x="875.07" y="37.10" width="2.8" height="6.65" fill="#ff0a6c"/>
<line x1="880.73" y1="30.25" x2="880.73" y2="44.60" class="u"/><line x1="880.73" y1="30.25" x2="880.73" y2="44.60" stroke="#6ee6dc" stroke-width="0.6"/>
<rect x="879.33" y="41.75" width="2.8" height="1.65" fill="#6ee6dc"/>
<line x1="885.00" y1="39.60" x2="885.00" y2="49.60" class="u"/><line x1="885.00" y1="39.60" x2="885.00" y2="49.60" stroke="#ff0a6c" stroke-width="0.6"/>
<rect x="883.60" y="41.75" width="2.8" height="2.00" fill="#ff0a6c"/>
<line x1="889.27" y1="28.40" x2="889.27" y2="54.00" class="u"/><line x1="889.27" y1="28.40" x2="889.27" y2="54.00" stroke="#ff0a6c" stroke-width="0.6"/>
<rect x="887.87" y="43.00" width="2.8" height="10.75" fill="#ff0a6c"/>
<line x1="893.53" y1="42.10" x2="893.53" y2="61.30" class="u"/><line x1="893.53" y1="42.10" x2="893.53" y2="61.30" stroke="#ff0a6c" stroke-width="0.6"/>
<rect x="892.13" y="53.00" width="2.8" height="8.10" fill="#ff0a6c"/>
<line x1="897.80" y1="55.00" x2="897.80" y2="78.50" class="u"/><line x1="897.80" y1="55.00" x2="897.80" y2="78.50" stroke="#ff0a6c" stroke-width="0.6"/>
<rect x="896.40" y="60.80" width="2.8" height="5.20" fill="#ff0a6c"/>
<line x1="902.07" y1="51.75" x2="902.07" y2="71.10" class="u"/><line x1="902.07" y1="51.75" x2="902.07" y2="71.10" stroke="#6ee6dc" stroke-width="0.6"/>
<rect x="900.67" y="64.00" width="2.8" height="1.50" fill="#6ee6dc"/>
<line x1="906.33" y1="56.75" x2="906.33" y2="72.80" class="u"/><line x1="906.33" y1="56.75" x2="906.33" y2="72.80" stroke="#ff0a6c" stroke-width="0.6"/>
<rect x="904.93" y="63.30" width="2.8" height="6.60" fill="#ff0a6c"/>
<line x1="910.60" y1="54.20" x2="910.60" y2="73.70" class="u"/><line x1="910.60" y1="54.20" x2="910.60" y2="73.70" stroke="#6ee6dc" stroke-width="0.6"/>
<rect x="909.20" y="67.00" width="2.8" height="2.90" fill="#6ee6dc"/>
<line x1="914.87" y1="54.00" x2="914.87" y2="130.70" class="u"/><line x1="914.87" y1="54.00" x2="914.87" y2="130.70" stroke="#ff0a6c" stroke-width="0.6"/>
<rect x="913.47" y="67.00" width="2.8" height="20.80" fill="#ff0a6c"/>
<line x1="919.13" y1="73.60" x2="919.13" y2="103.70" class="u"/><line x1="919.13" y1="73.60" x2="919.13" y2="103.70" stroke="#ff0a6c" stroke-width="0.6"/>
<rect x="917.73" y="87.20" width="2.8" height="6.50" fill="#ff0a6c"/>
<line x1="923.40" y1="62.90" x2="923.40" y2="110.80" class="u"/><line x1="923.40" y1="62.90" x2="923.40" y2="110.80" stroke="#6ee6dc" stroke-width="0.6"/>
<rect x="922.00" y="85.00" width="2.8" height="8.70" fill="#6ee6dc"/>
<line x1="927.67" y1="69.10" x2="927.67" y2="92.00" class="u"/><line x1="927.67" y1="69.10" x2="927.67" y2="92.00" stroke="#6ee6dc" stroke-width="0.6"/>
<rect x="926.27" y="74.75" width="2.8" height="10.25" fill="#6ee6dc"/>
<line x1="931.93" y1="74.50" x2="931.93" y2="94.75" class="u"/><line x1="931.93" y1="74.50" x2="931.93" y2="94.75" stroke="#ff0a6c" stroke-width="0.6"/>
<rect x="930.53" y="74.75" width="2.8" height="4.35" fill="#ff0a6c"/>
<line x1="936.20" y1="67.00" x2="936.20" y2="86.00" class="u"/><line x1="936.20" y1="67.00" x2="936.20" y2="86.00" stroke="#6ee6dc" stroke-width="0.6"/>
<rect x="934.80" y="75.00" width="2.8" height="4.75" fill="#6ee6dc"/>
<line x1="940.47" y1="71.00" x2="940.47" y2="81.60" class="u"/><line x1="940.47" y1="71.00" x2="940.47" y2="81.60" stroke="#ff0a6c" stroke-width="0.6"/>
<rect x="939.07" y="75.00" width="2.8" height="2.50" fill="#ff0a6c"/>
<line x1="944.73" y1="76.25" x2="944.73" y2="97.60" class="u"/><line x1="944.73" y1="76.25" x2="944.73" y2="97.60" stroke="#ff0a6c" stroke-width="0.6"/>
<rect x="943.33" y="77.50" width="2.8" height="20.00" fill="#ff0a6c"/>
<line x1="949.00" y1="91.25" x2="949.00" y2="98.50" class="u"/><line x1="949.00" y1="91.25" x2="949.00" y2="98.50" stroke="#6ee6dc" stroke-width="0.6"/>
<rect x="947.60" y="92.00" width="2.8" height="5.90" fill="#6ee6dc"/>
<line x1="953.27" y1="89.10" x2="953.27" y2="104.75" class="u"/><line x1="953.27" y1="89.10" x2="953.27" y2="104.75" stroke="#6ee6dc" stroke-width="0.6"/>
<rect x="951.87" y="94.10" width="2.8" height="8.80" fill="#6ee6dc"/>
<line x1="957.53" y1="92.50" x2="957.53" y2="111.60" class="u"/><line x1="957.53" y1="92.50" x2="957.53" y2="111.60" stroke="#ff0a6c" stroke-width="0.6"/>
<rect x="956.13" y="94.10" width="2.8" height="14.40" fill="#ff0a6c"/>
<line x1="961.80" y1="105.75" x2="961.80" y2="122.00" class="u"/><line x1="961.80" y1="105.75" x2="961.80" y2="122.00" stroke="#ff0a6c" stroke-width="0.6"/>
<rect x="960.40" y="108.25" width="2.8" height="9.65" fill="#ff0a6c"/>
<line x1="966.07" y1="111.60" x2="966.07" y2="126.00" class="u"/><line x1="966.07" y1="111.60" x2="966.07" y2="126.00" stroke="#ff0a6c" stroke-width="0.6"/>
<rect x="964.67" y="117.00" width="2.8" height="1.75" fill="#ff0a6c"/>
<line x1="970.33" y1="109.50" x2="970.33" y2="126.25" class="u"/><line x1="970.33" y1="109.50" x2="970.33" y2="126.25" stroke="#6ee6dc" stroke-width="0.6"/>
<rect x="968.93" y="117.00" width="2.8" height="1.50" fill="#6ee6dc"/>
<line x1="974.60" y1="113.75" x2="974.60" y2="119.75" class="u"/><line x1="974.60" y1="113.75" x2="974.60" y2="119.75" stroke="#6ee6dc" stroke-width="0.6"/>
<rect x="973.20" y="115.00" width="2.8" height="2.50" fill="#6ee6dc"/>
<line x1="978.87" y1="110.40" x2="978.87" y2="115.90" class="u"/><line x1="978.87" y1="110.40" x2="978.87" y2="115.90" stroke="#6ee6dc" stroke-width="0.6"/>
<rect x="977.47" y="110.40" width="2.8" height="5.20" fill="#6ee6dc"/>
</g>
<g clip-path="url(#cr)"><polyline points="1.80,436.25 6.07,438.10 10.33,440.60 14.60,441.50 18.87,444.75 23.13,445.25 27.40,444.40 31.67,443.75 35.93,443.25 40.20,443.25 44.47,438.10 48.73,440.00 53.00,432.75 57.27,430.00 61.53,430.60 65.80,437.25 70.07,432.50 74.33,432.75 78.60,436.00 82.87,431.90 87.13,432.25 91.40,433.50 95.67,442.50 99.93,439.75 104.20,436.50 108.47,436.25 112.73,439.40 117.00,439.75 121.27,441.50 125.53,441.50 129.80,441.00 134.07,441.25 138.33,442.50 142.60,435.60 146.87,433.75 151.13,433.50 155.40,433.50 159.67,431.50 163.93,434.40 168.20,436.50 172.47,433.10 176.73,428.10 181.00,431.25 185.27,432.50 189.53,431.25 193.80,428.50 198.07,431.50 202.33,424.75 206.60,443.50 210.87,438.50 215.13,439.40 219.40,430.00 223.67,424.40 227.93,425.60 232.20,425.60 236.47,425.60 240.73,423.50 245.00,421.50 249.27,424.00 253.53,423.75 257.80,423.10 262.07,421.90 266.33,420.60 270.60,419.40 274.87,432.25 279.13,426.00 283.40,426.00 287.67,430.25 291.93,427.50 296.20,426.50 300.47,420.60 304.73,417.75 309.00,424.40 313.27,422.75 317.53,421.90 321.80,421.90 326.07,420.60 330.33,420.60 334.60,423.50 338.87,421.50 343.13,421.50 347.40,425.00 351.67,425.00 355.93,425.25 360.20,423.10 364.47,422.75 368.73,423.50 373.00,422.50 377.27,421.90 381.53,421.25 385.80,422.50 390.07,422.75 394.33,421.25 398.60,421.00 402.87,444.40 407.13,438.50 411.40,438.50 415.67,429.40 419.93,428.50 424.20,429.75 428.47,426.90 432.73,426.90 437.00,426.25 441.27,427.25 445.53,426.00 449.80,426.00 454.07,421.50 458.33,421.00 462.60,419.40 466.87,419.00 471.13,419.40 475.40,424.00 479.67,432.75 483.93,429.75 488.20,428.10 492.47,433.50 496.73,427.75 501.00,423.50 505.27,429.00 509.53,432.25 513.80,436.25 518.07,441.25 522.33,441.25 526.60,440.60 530.87,441.50 535.13,442.50 539.40,442.75 543.67,440.60 547.93,439.40 552.20,435.60 556.47,435.60 560.73,438.50 565.00,440.00 569.27,440.00 573.53,439.40 577.80,441.50 582.07,439.40 586.33,439.00 590.60,437.75 594.87,435.25 599.13,429.75 603.40,427.50 607.67,431.90 611.93,436.25 616.20,436.50 620.47,437.50 624.73,441.00 629.00,445.60 633.27,445.60 637.53,443.10 641.80,444.40 646.07,443.10 650.33,442.50 654.60,443.75 658.87,439.00 663.13,441.00 667.40,440.25 671.67,441.50 675.93,440.25 680.20,445.25 684.47,440.25 688.73,433.50 693.00,433.50 697.27,426.25 701.53,429.75 705.80,419.75 710.07,419.40 714.33,426.25 718.60,429.75 722.87,430.00 727.13,427.25 731.40,429.40 735.67,428.75 739.93,429.40 744.20,431.00 748.47,431.00 752.73,429.75 757.00,432.25 761.27,432.75 765.53,434.75 769.80,431.90 774.07,432.50 778.33,432.50 782.60,428.50 786.87,424.40 791.13,424.40 795.40,436.50 799.67,430.25 803.93,432.25 808.20,429.00 812.47,428.50 816.73,424.40 821.00,422.50 825.27,421.25 829.53,424.00 833.80,420.60 838.07,420.60 842.33,422.75 846.60,423.10 850.87,423.10 855.13,422.50 859.40,421.25 863.67,416.25 867.93,418.75 872.20,417.50 876.47,419.75 880.73,419.75 885.00,420.25 889.27,425.30 893.53,428.60 897.80,430.25 902.07,430.25 906.33,432.75 910.60,431.25 914.87,439.00 919.13,441.25 923.40,437.50 927.67,433.50 931.93,434.75 936.20,433.50 940.47,434.00 944.73,441.25 949.00,438.50 953.27,439.75 957.53,443.75 961.80,446.00 966.07,446.50 970.33,446.25 974.60,445.25 978.87,441.90" fill="none" stroke="#4cc4c4" stroke-width="1.2" stroke-linejoin="round"/></g>
<g clip-path="url(#cd)">
<line x1="1.80" y1="532.4" x2="1.80" y2="511.25" class="u"/><line x1="1.80" y1="532.4" x2="1.80" y2="511.25" class="h"/>
<line x1="6.07" y1="532.4" x2="6.07" y2="518.10" class="u"/><line x1="6.07" y1="532.4" x2="6.07" y2="518.10" class="h"/>
<line x1="10.33" y1="532.4" x2="10.33" y2="525.60" class="u"/><line x1="10.33" y1="532.4" x2="10.33" y2="525.60" class="h"/>
<line x1="14.60" y1="532.4" x2="14.60" y2="532.00" class="u"/><line x1="14.60" y1="532.4" x2="14.60" y2="532.00" class="h"/>
<line x1="18.87" y1="532.4" x2="18.87" y2="540.60" class="u"/><line x1="18.87" y1="532.4" x2="18.87" y2="540.60" class="h"/>
<line x1="23.13" y1="532.4" x2="23.13" y2="546.90" class="u"/><line x1="23.13" y1="532.4" x2="23.13" y2="546.90" class="h"/>
<line x1="27.40" y1="532.4" x2="27.40" y2="552.50" class="u"/><line x1="27.40" y1="532.4" x2="27.40" y2="552.50" class="h"/>
<line x1="31.67" y1="532.4" x2="31.67" y2="555.00" class="u"/><line x1="31.67" y1="532.4" x2="31.67" y2="555.00" class="h"/>
<line x1="35.93" y1="532.4" x2="35.93" y2="556.90" class="u"/><line x1="35.93" y1="532.4" x2="35.93" y2="556.90" class="h"/>
<line x1="40.20" y1="532.4" x2="40.20" y2="558.50" class="u"/><line x1="40.20" y1="532.4" x2="40.20" y2="558.50" class="h"/>
<line x1="44.47" y1="532.4" x2="44.47" y2="556.90" class="u"/><line x1="44.47" y1="532.4" x2="44.47" y2="556.90" class="h"/>
<line x1="48.73" y1="532.4" x2="48.73" y2="556.90" class="u"/><line x1="48.73" y1="532.4" x2="48.73" y2="556.90" class="h"/>
<line x1="53.00" y1="532.4" x2="53.00" y2="552.50" class="u"/><line x1="53.00" y1="532.4" x2="53.00" y2="552.50" class="h"/>
<line x1="57.27" y1="532.4" x2="57.27" y2="547.75" class="u"/><line x1="57.27" y1="532.4" x2="57.27" y2="547.75" class="h"/>
<line x1="61.53" y1="532.4" x2="61.53" y2="544.75" class="u"/><line x1="61.53" y1="532.4" x2="61.53" y2="544.75" class="h"/>
<line x1="65.80" y1="532.4" x2="65.80" y2="545.00" class="u"/><line x1="65.80" y1="532.4" x2="65.80" y2="545.00" class="h"/>
<line x1="70.07" y1="532.4" x2="70.07" y2="541.90" class="u"/><line x1="70.07" y1="532.4" x2="70.07" y2="541.90" class="h"/>
<line x1="74.33" y1="532.4" x2="74.33" y2="540.00" class="u"/><line x1="74.33" y1="532.4" x2="74.33" y2="540.00" class="h"/>
<line x1="78.60" y1="532.4" x2="78.60" y2="540.60" class="u"/><line x1="78.60" y1="532.4" x2="78.60" y2="540.60" class="h"/>
<line x1="82.87" y1="532.4" x2="82.87" y2="538.75" class="u"/><line x1="82.87" y1="532.4" x2="82.87" y2="538.75" class="h"/>
<line x1="87.13" y1="532.4" x2="87.13" y2="536.90" class="u"/><line x1="87.13" y1="532.4" x2="87.13" y2="536.90" class="h"/>
<line x1="91.40" y1="532.4" x2="91.40" y2="536.50" class="u"/><line x1="91.40" y1="532.4" x2="91.40" y2="536.50" class="h"/>
<line x1="95.67" y1="532.4" x2="95.67" y2="539.75" class="u"/><line x1="95.67" y1="532.4" x2="95.67" y2="539.75" class="h"/>
<line x1="99.93" y1="532.4" x2="99.93" y2="544.40" class="u"/><line x1="99.93" y1="532.4" x2="99.93" y2="544.40" class="h"/>
<line x1="104.20" y1="532.4" x2="104.20" y2="544.00" class="u"/><line x1="104.20" y1="532.4" x2="104.20" y2="544.00" class="h"/>
<line x1="108.47" y1="532.4" x2="108.47" y2="544.40" class="u"/><line x1="108.47" y1="532.4" x2="108.47" y2="544.40" class="h"/>
<line x1="112.73" y1="532.4" x2="112.73" y2="546.90" class="u"/><line x1="112.73" y1="532.4" x2="112.73" y2="546.90" class="h"/>
<line x1="117.00" y1="532.4" x2="117.00" y2="547.75" class="u"/><line x1="117.00" y1="532.4" x2="117.00" y2="547.75" class="h"/>
<line x1="121.27" y1="532.4" x2="121.27" y2="550.00" class="u"/><line x1="121.27" y1="532.4" x2="121.27" y2="550.00" class="h"/>
<line x1="125.53" y1="532.4" x2="125.53" y2="551.50" class="u"/><line x1="125.53" y1="532.4" x2="125.53" y2="551.50" class="h"/>
<line x1="129.80" y1="532.4" x2="129.80" y2="552.50" class="u"/><line x1="129.80" y1="532.4" x2="129.80" y2="552.50" class="h"/>
<line x1="134.07" y1="532.4" x2="134.07" y2="553.75" class="u"/><line x1="134.07" y1="532.4" x2="134.07" y2="553.75" class="h"/>
<line x1="138.33" y1="532.4" x2="138.33" y2="554.75" class="u"/><line x1="138.33" y1="532.4" x2="138.33" y2="554.75" class="h"/>
<line x1="142.60" y1="532.4" x2="142.60" y2="549.40" class="u"/><line x1="142.60" y1="532.4" x2="142.60" y2="549.40" class="h"/>
<line x1="146.87" y1="532.4" x2="146.87" y2="549.75" class="u"/><line x1="146.87" y1="532.4" x2="146.87" y2="549.75" class="h"/>
<line x1="151.13" y1="532.4" x2="151.13" y2="547.25" class="u"/><line x1="151.13" y1="532.4" x2="151.13" y2="547.25" class="h"/>
<line x1="155.40" y1="532.4" x2="155.40" y2="546.25" class="u"/><line x1="155.40" y1="532.4" x2="155.40" y2="546.25" class="h"/>
<line x1="159.67" y1="532.4" x2="159.67" y2="542.75" class="u"/><line x1="159.67" y1="532.4" x2="159.67" y2="542.75" class="h"/>
<line x1="163.93" y1="532.4" x2="163.93" y2="541.00" class="u"/><line x1="163.93" y1="532.4" x2="163.93" y2="541.00" class="h"/>
<line x1="168.20" y1="532.4" x2="168.20" y2="541.00" class="u"/><line x1="168.20" y1="532.4" x2="168.20" y2="541.00" class="h"/>
<line x1="172.47" y1="532.4" x2="172.47" y2="539.75" class="u"/><line x1="172.47" y1="532.4" x2="172.47" y2="539.75" class="h"/>
<line x1="176.73" y1="532.4" x2="176.73" y2="536.00" class="u"/><line x1="176.73" y1="532.4" x2="176.73" y2="536.00" class="h"/>
<line x1="181.00" y1="532.4" x2="181.00" y2="536.90" class="u"/><line x1="181.00" y1="532.4" x2="181.00" y2="536.90" class="h"/>
<line x1="185.27" y1="532.4" x2="185.27" y2="534.40" class="u"/><line x1="185.27" y1="532.4" x2="185.27" y2="534.40" class="h"/>
<line x1="189.53" y1="532.4" x2="189.53" y2="533.10" class="u"/><line x1="189.53" y1="532.4" x2="189.53" y2="533.10" class="h"/>
<line x1="193.80" y1="532.4" x2="193.80" y2="532.80" class="u"/><line x1="193.80" y1="532.4" x2="193.80" y2="532.80" class="h"/>
<line x1="198.07" y1="532.4" x2="198.07" y2="531.00" class="u"/><line x1="198.07" y1="532.4" x2="198.07" y2="531.00" class="h"/>
<line x1="202.33" y1="532.4" x2="202.33" y2="527.25" class="u"/><line x1="202.33" y1="532.4" x2="202.33" y2="527.25" class="h"/>
<line x1="206.60" y1="532.4" x2="206.60" y2="533.75" class="u"/><line x1="206.60" y1="532.4" x2="206.60" y2="533.75" class="h"/>
<line x1="210.87" y1="532.4" x2="210.87" y2="538.75" class="u"/><line x1="210.87" y1="532.4" x2="210.87" y2="538.75" class="h"/>
<line x1="215.13" y1="532.4" x2="215.13" y2="542.25" class="u"/><line x1="215.13" y1="532.4" x2="215.13" y2="542.25" class="h"/>
<line x1="219.40" y1="532.4" x2="219.40" y2="537.50" class="u"/><line x1="219.40" y1="532.4" x2="219.40" y2="537.50" class="h"/>
<line x1="223.67" y1="532.4" x2="223.67" y2="529.00" class="u"/><line x1="223.67" y1="532.4" x2="223.67" y2="529.00" class="h"/>
<line x1="227.93" y1="532.4" x2="227.93" y2="522.75" class="u"/><line x1="227.93" y1="532.4" x2="227.93" y2="522.75" class="h"/>
<line x1="232.20" y1="532.4" x2="232.20" y2="516.25" class="u"/><line x1="232.20" y1="532.4" x2="232.20" y2="516.25" class="h"/>
<line x1="236.47" y1="532.4" x2="236.47" y2="514.75" class="u"/><line x1="236.47" y1="532.4" x2="236.47" y2="514.75" class="h"/>
<line x1="240.73" y1="532.4" x2="240.73" y2="510.00" class="u"/><line x1="240.73" y1="532.4" x2="240.73" y2="510.00" class="h"/>
<line x1="245.00" y1="532.4" x2="245.00" y2="504.40" class="u"/><line x1="245.00" y1="532.4" x2="245.00" y2="504.40" class="h"/>
<line x1="249.27" y1="532.4" x2="249.27" y2="502.25" class="u"/><line x1="249.27" y1="532.4" x2="249.27" y2="502.25" class="h"/>
<line x1="253.53" y1="532.4" x2="253.53" y2="501.00" class="u"/><line x1="253.53" y1="532.4" x2="253.53" y2="501.00" class="h"/>
<line x1="257.80" y1="532.4" x2="257.80" y2="497.10" class="u"/><line x1="257.80" y1="532.4" x2="257.80" y2="497.10" class="h"/>
<line x1="262.07" y1="532.4" x2="262.07" y2="497.50" class="u"/><line x1="262.07" y1="532.4" x2="262.07" y2="497.50" class="h"/>
<line x1="266.33" y1="532.4" x2="266.33" y2="495.90" class="u"/><line x1="266.33" y1="532.4" x2="266.33" y2="495.90" class="h"/>
<line x1="270.60" y1="532.4" x2="270.60" y2="493.00" class="u"/><line x1="270.60" y1="532.4" x2="270.60" y2="493.00" class="h"/>
<line x1="274.87" y1="532.4" x2="274.87" y2="500.90" class="u"/><line x1="274.87" y1="532.4" x2="274.87" y2="500.90" class="h"/>
<line x1="279.13" y1="532.4" x2="279.13" y2="499.60" class="u"/><line x1="279.13" y1="532.4" x2="279.13" y2="499.60" class="h"/>
<line x1="283.40" y1="532.4" x2="283.40" y2="498.40" class="u"/><line x1="283.40" y1="532.4" x2="283.40" y2="498.40" class="h"/>
<line x1="287.67" y1="532.4" x2="287.67" y2="501.75" class="u"/><line x1="287.67" y1="532.4" x2="287.67" y2="501.75" class="h"/>
<line x1="291.93" y1="532.4" x2="291.93" y2="502.50" class="u"/><line x1="291.93" y1="532.4" x2="291.93" y2="502.50" class="h"/>
<line x1="296.20" y1="532.4" x2="296.20" y2="502.10" class="u"/><line x1="296.20" y1="532.4" x2="296.20" y2="502.10" class="h"/>
<line x1="300.47" y1="532.4" x2="300.47" y2="498.40" class="u"/><line x1="300.47" y1="532.4" x2="300.47" y2="498.40" class="h"/>
<line x1="304.73" y1="532.4" x2="304.73" y2="489.00" class="u"/><line x1="304.73" y1="532.4" x2="304.73" y2="489.00" class="h"/>
<line x1="309.00" y1="532.4" x2="309.00" y2="487.10" class="u"/><line x1="309.00" y1="532.4" x2="309.00" y2="487.10" class="h"/>
<line x1="313.27" y1="532.4" x2="313.27" y2="485.90" class="u"/><line x1="313.27" y1="532.4" x2="313.27" y2="485.90" class="h"/>
<line x1="317.53" y1="532.4" x2="317.53" y2="483.75" class="u"/><line x1="317.53" y1="532.4" x2="317.53" y2="483.75" class="h"/>
<line x1="321.80" y1="532.4" x2="321.80" y2="482.75" class="u"/><line x1="321.80" y1="532.4" x2="321.80" y2="482.75" class="h"/>
<line x1="326.07" y1="532.4" x2="326.07" y2="480.90" class="u"/><line x1="326.07" y1="532.4" x2="326.07" y2="480.90" class="h"/>
<line x1="330.33" y1="532.4" x2="330.33" y2="479.25" class="u"/><line x1="330.33" y1="532.4" x2="330.33" y2="479.25" class="h"/>
<line x1="334.60" y1="532.4" x2="334.60" y2="480.90" class="u"/><line x1="334.60" y1="532.4" x2="334.60" y2="480.90" class="h"/>
<line x1="338.87" y1="532.4" x2="338.87" y2="480.50" class="u"/><line x1="338.87" y1="532.4" x2="338.87" y2="480.50" class="h"/>
<line x1="343.13" y1="532.4" x2="343.13" y2="480.90" class="u"/><line x1="343.13" y1="532.4" x2="343.13" y2="480.90" class="h"/>
<line x1="347.40" y1="532.4" x2="347.40" y2="482.75" class="u"/><line x1="347.40" y1="532.4" x2="347.40" y2="482.75" class="h"/>
<line x1="351.67" y1="532.4" x2="351.67" y2="485.90" class="u"/><line x1="351.67" y1="532.4" x2="351.67" y2="485.90" class="h"/>
<line x1="355.93" y1="532.4" x2="355.93" y2="488.00" class="u"/><line x1="355.93" y1="532.4" x2="355.93" y2="488.00" class="h"/>
<line x1="360.20" y1="532.4" x2="360.20" y2="487.50" class="u"/><line x1="360.20" y1="532.4" x2="360.20" y2="487.50" class="h"/>
<line x1="364.47" y1="532.4" x2="364.47" y2="490.50" class="u"/><line x1="364.47" y1="532.4" x2="364.47" y2="490.50" class="h"/>
<line x1="368.73" y1="532.4" x2="368.73" y2="491.75" class="u"/><line x1="368.73" y1="532.4" x2="368.73" y2="491.75" class="h"/>
<line x1="373.00" y1="532.4" x2="373.00" y2="493.00" class="u"/><line x1="373.00" y1="532.4" x2="373.00" y2="493.00" class="h"/>
<line x1="377.27" y1="532.4" x2="377.27" y2="494.00" class="u"/><line x1="377.27" y1="532.4" x2="377.27" y2="494.00" class="h"/>
<line x1="381.53" y1="532.4" x2="381.53" y2="495.00" class="u"/><line x1="381.53" y1="532.4" x2="381.53" y2="495.00" class="h"/>
<line x1="385.80" y1="532.4" x2="385.80" y2="497.10" class="u"/><line x1="385.80" y1="532.4" x2="385.80" y2="497.10" class="h"/>
<line x1="390.07" y1="532.4" x2="390.07" y2="498.00" class="u"/><line x1="390.07" y1="532.4" x2="390.07" y2="498.00" class="h"/>
<line x1="394.33" y1="532.4" x2="394.33" y2="498.75" class="u"/><line x1="394.33" y1="532.4" x2="394.33" y2="498.75" class="h"/>
<line x1="398.60" y1="532.4" x2="398.60" y2="500.00" class="u"/><line x1="398.60" y1="532.4" x2="398.60" y2="500.00" class="h"/>
<line x1="402.87" y1="532.4" x2="402.87" y2="512.50" class="u"/><line x1="402.87" y1="532.4" x2="402.87" y2="512.50" class="h"/>
<line x1="407.13" y1="532.4" x2="407.13" y2="519.25" class="u"/><line x1="407.13" y1="532.4" x2="407.13" y2="519.25" class="h"/>
<line x1="411.40" y1="532.4" x2="411.40" y2="523.00" class="u"/><line x1="411.40" y1="532.4" x2="411.40" y2="523.00" class="h"/>
<line x1="415.67" y1="532.4" x2="415.67" y2="523.00" class="u"/><line x1="415.67" y1="532.4" x2="415.67" y2="523.00" class="h"/>
<line x1="419.93" y1="532.4" x2="419.93" y2="521.50" class="u"/><line x1="419.93" y1="532.4" x2="419.93" y2="521.50" class="h"/>
<line x1="424.20" y1="532.4" x2="424.20" y2="520.90" class="u"/><line x1="424.20" y1="532.4" x2="424.20" y2="520.90" class="h"/>
<line x1="428.47" y1="532.4" x2="428.47" y2="518.00" class="u"/><line x1="428.47" y1="532.4" x2="428.47" y2="518.00" class="h"/>
<line x1="432.73" y1="532.4" x2="432.73" y2="518.00" class="u"/><line x1="432.73" y1="532.4" x2="432.73" y2="518.00" class="h"/>
<line x1="437.00" y1="532.4" x2="437.00" y2="513.40" class="u"/><line x1="437.00" y1="532.4" x2="437.00" y2="513.40" class="h"/>
<line x1="441.27" y1="532.4" x2="441.27" y2="514.60" class="u"/><line x1="441.27" y1="532.4" x2="441.27" y2="514.60" class="h"/>
<line x1="445.53" y1="532.4" x2="445.53" y2="513.00" class="u"/><line x1="445.53" y1="532.4" x2="445.53" y2="513.00" class="h"/>
<line x1="449.80" y1="532.4" x2="449.80" y2="512.50" class="u"/><line x1="449.80" y1="532.4" x2="449.80" y2="512.50" class="h"/>
<line x1="454.07" y1="532.4" x2="454.07" y2="508.75" class="u"/><line x1="454.07" y1="532.4" x2="454.07" y2="508.75" class="h"/>
<line x1="458.33" y1="532.4" x2="458.33" y2="505.90" class="u"/><line x1="458.33" y1="532.4" x2="458.33" y2="505.90" class="h"/>
<line x1="462.60" y1="532.4" x2="462.60" y2="503.00" class="u"/><line x1="462.60" y1="532.4" x2="462.60" y2="503.00" class="h"/>
<line x1="466.87" y1="532.4" x2="466.87" y2="500.90" class="u"/><line x1="466.87" y1="532.4" x2="466.87" y2="500.90" class="h"/>
<line x1="471.13" y1="532.4" x2="471.13" y2="499.00" class="u"/><line x1="471.13" y1="532.4" x2="471.13" y2="499.00" class="h"/>
<line x1="475.40" y1="532.4" x2="475.40" y2="499.60" class="u"/><line x1="475.40" y1="532.4" x2="475.40" y2="499.60" class="h"/>
<line x1="479.67" y1="532.4" x2="479.67" y2="505.90" class="u"/><line x1="479.67" y1="532.4" x2="479.67" y2="505.90" class="h"/>
<line x1="483.93" y1="532.4" x2="483.93" y2="506.75" class="u"/><line x1="483.93" y1="532.4" x2="483.93" y2="506.75" class="h"/>
<line x1="488.20" y1="532.4" x2="488.20" y2="506.75" class="u"/><line x1="488.20" y1="532.4" x2="488.20" y2="506.75" class="h"/>
<line x1="492.47" y1="532.4" x2="492.47" y2="513.00" class="u"/><line x1="492.47" y1="532.4" x2="492.47" y2="513.00" class="h"/>
<line x1="496.73" y1="532.4" x2="496.73" y2="513.00" class="u"/><line x1="496.73" y1="532.4" x2="496.73" y2="513.00" class="h"/>
<line x1="501.00" y1="532.4" x2="501.00" y2="510.00" class="u"/><line x1="501.00" y1="532.4" x2="501.00" y2="510.00" class="h"/>
<line x1="505.27" y1="532.4" x2="505.27" y2="510.90" class="u"/><line x1="505.27" y1="532.4" x2="505.27" y2="510.90" class="h"/>
<line x1="509.53" y1="532.4" x2="509.53" y2="513.75" class="u"/><line x1="509.53" y1="532.4" x2="509.53" y2="513.75" class="h"/>
<line x1="513.80" y1="532.4" x2="513.80" y2="519.40" class="u"/><line x1="513.80" y1="532.4" x2="513.80" y2="519.40" class="h"/>
<line x1="518.07" y1="532.4" x2="518.07" y2="528.10" class="u"/><line x1="518.07" y1="532.4" x2="518.07" y2="528.10" class="h"/>
<line x1="522.33" y1="532.4" x2="522.33" y2="534.40" class="u"/><line x1="522.33" y1="532.4" x2="522.33" y2="534.40" class="h"/>
<line x1="526.60" y1="532.4" x2="526.60" y2="539.00" class="u"/><line x1="526.60" y1="532.4" x2="526.60" y2="539.00" class="h"/>
<line x1="530.87" y1="532.4" x2="530.87" y2="543.75" class="u"/><line x1="530.87" y1="532.4" x2="530.87" y2="543.75" class="h"/>
<line x1="535.13" y1="532.4" x2="535.13" y2="548.10" class="u"/><line x1="535.13" y1="532.4" x2="535.13" y2="548.10" class="h"/>
<line x1="539.40" y1="532.4" x2="539.40" y2="552.50" class="u"/><line x1="539.40" y1="532.4" x2="539.40" y2="552.50" class="h"/>
<line x1="543.67" y1="532.4" x2="543.67" y2="552.25" class="u"/><line x1="543.67" y1="532.4" x2="543.67" y2="552.25" class="h"/>
<line x1="547.93" y1="532.4" x2="547.93" y2="552.25" class="u"/><line x1="547.93" y1="532.4" x2="547.93" y2="552.25" class="h"/>
<line x1="552.20" y1="532.4" x2="552.20" y2="551.00" class="u"/><line x1="552.20" y1="532.4" x2="552.20" y2="551.00" class="h"/>
<line x1="556.47" y1="532.4" x2="556.47" y2="548.75" class="u"/><line x1="556.47" y1="532.4" x2="556.47" y2="548.75" class="h"/>
<line x1="560.73" y1="532.4" x2="560.73" y2="548.50" class="u"/><line x1="560.73" y1="532.4" x2="560.73" y2="548.50" class="h"/>
<line x1="565.00" y1="532.4" x2="565.00" y2="549.75" class="u"/><line x1="565.00" y1="532.4" x2="565.00" y2="549.75" class="h"/>
<line x1="569.27" y1="532.4" x2="569.27" y2="549.75" class="u"/><line x1="569.27" y1="532.4" x2="569.27" y2="549.75" class="h"/>
<line x1="573.53" y1="532.4" x2="573.53" y2="549.75" class="u"/><line x1="573.53" y1="532.4" x2="573.53" y2="549.75" class="h"/>
<line x1="577.80" y1="532.4" x2="577.80" y2="549.75" class="u"/><line x1="577.80" y1="532.4" x2="577.80" y2="549.75" class="h"/>
<line x1="582.07" y1="532.4" x2="582.07" y2="550.25" class="u"/><line x1="582.07" y1="532.4" x2="582.07" y2="550.25" class="h"/>
<line x1="586.33" y1="532.4" x2="586.33" y2="549.75" class="u"/><line x1="586.33" y1="532.4" x2="586.33" y2="549.75" class="h"/>
<line x1="590.60" y1="532.4" x2="590.60" y2="548.75" class="u"/><line x1="590.60" y1="532.4" x2="590.60" y2="548.75" class="h"/>
<line x1="594.87" y1="532.4" x2="594.87" y2="546.90" class="u"/><line x1="594.87" y1="532.4" x2="594.87" y2="546.90" class="h"/>
<line x1="599.13" y1="532.4" x2="599.13" y2="543.50" class="u"/><line x1="599.13" y1="532.4" x2="599.13" y2="543.50" class="h"/>
<line x1="603.40" y1="532.4" x2="603.40" y2="539.75" class="u"/><line x1="603.40" y1="532.4" x2="603.40" y2="539.75" class="h"/>
<line x1="607.67" y1="532.4" x2="607.67" y2="537.75" class="u"/><line x1="607.67" y1="532.4" x2="607.67" y2="537.75" class="h"/>
<line x1="611.93" y1="532.4" x2="611.93" y2="538.10" class="u"/><line x1="611.93" y1="532.4" x2="611.93" y2="538.10" class="h"/>
<line x1="616.20" y1="532.4" x2="616.20" y2="539.00" class="u"/><line x1="616.20" y1="532.4" x2="616.20" y2="539.00" class="h"/>
<line x1="620.47" y1="532.4" x2="620.47" y2="538.75" class="u"/><line x1="620.47" y1="532.4" x2="620.47" y2="538.75" class="h"/>
<line x1="624.73" y1="532.4" x2="624.73" y2="541.00" class="u"/><line x1="624.73" y1="532.4" x2="624.73" y2="541.00" class="h"/>
<line x1="629.00" y1="532.4" x2="629.00" y2="544.75" class="u"/><line x1="629.00" y1="532.4" x2="629.00" y2="544.75" class="h"/>
<line x1="633.27" y1="532.4" x2="633.27" y2="547.75" class="u"/><line x1="633.27" y1="532.4" x2="633.27" y2="547.75" class="h"/>
<line x1="637.53" y1="532.4" x2="637.53" y2="549.00" class="u"/><line x1="637.53" y1="532.4" x2="637.53" y2="549.00" class="h"/>
<line x1="641.80" y1="532.4" x2="641.80" y2="551.25" class="u"/><line x1="641.80" y1="532.4" x2="641.80" y2="551.25" class="h"/>
<line x1="646.07" y1="532.4" x2="646.07" y2="551.50" class="u"/><line x1="646.07" y1="532.4" x2="646.07" y2="551.50" class="h"/>
<line x1="650.33" y1="532.4" x2="650.33" y2="551.50" class="u"/><line x1="650.33" y1="532.4" x2="650.33" y2="551.50" class="h"/>
<line x1="654.60" y1="532.4" x2="654.60" y2="552.25" class="u"/><line x1="654.60" y1="532.4" x2="654.60" y2="552.25" class="h"/>
<line x1="658.87" y1="532.4" x2="658.87" y2="550.60" class="u"/><line x1="658.87" y1="532.4" x2="658.87" y2="550.60" class="h"/>
<line x1="663.13" y1="532.4" x2="663.13" y2="550.25" class="u"/><line x1="663.13" y1="532.4" x2="663.13" y2="550.25" class="h"/>
<line x1="667.40" y1="532.4" x2="667.40" y2="550.00" class="u"/><line x1="667.40" y1="532.4" x2="667.40" y2="550.00" class="h"/>
<line x1="671.67" y1="532.4" x2="671.67" y2="549.75" class="u"/><line x1="671.67" y1="532.4" x2="671.67" y2="549.75" class="h"/>
<line x1="675.93" y1="532.4" x2="675.93" y2="549.40" class="u"/><line x1="675.93" y1="532.4" x2="675.93" y2="549.40" class="h"/>
<line x1="680.20" y1="532.4" x2="680.20" y2="550.00" class="u"/><line x1="680.20" y1="532.4" x2="680.20" y2="550.00" class="h"/>
<line x1="684.47" y1="532.4" x2="684.47" y2="550.00" class="u"/><line x1="684.47" y1="532.4" x2="684.47" y2="550.00" class="h"/>
<line x1="688.73" y1="532.4" x2="688.73" y2="547.75" class="u"/><line x1="688.73" y1="532.4" x2="688.73" y2="547.75" class="h"/>
<line x1="693.00" y1="532.4" x2="693.00" y2="546.50" class="u"/><line x1="693.00" y1="532.4" x2="693.00" y2="546.50" class="h"/>
<line x1="697.27" y1="532.4" x2="697.27" y2="540.60" class="u"/><line x1="697.27" y1="532.4" x2="697.27" y2="540.60" class="h"/>
<line x1="701.53" y1="532.4" x2="701.53" y2="538.10" class="u"/><line x1="701.53" y1="532.4" x2="701.53" y2="538.10" class="h"/>
<line x1="705.80" y1="532.4" x2="705.80" y2="531.00" class="u"/><line x1="705.80" y1="532.4" x2="705.80" y2="531.00" class="h"/>
<line x1="710.07" y1="532.4" x2="710.07" y2="523.10" class="u"/><line x1="710.07" y1="532.4" x2="710.07" y2="523.10" class="h"/>
<line x1="714.33" y1="532.4" x2="714.33" y2="521.00" class="u"/><line x1="714.33" y1="532.4" x2="714.33" y2="521.00" class="h"/>
<line x1="718.60" y1="532.4" x2="718.60" y2="519.75" class="u"/><line x1="718.60" y1="532.4" x2="718.60" y2="519.75" class="h"/>
<line x1="722.87" y1="532.4" x2="722.87" y2="521.90" class="u"/><line x1="722.87" y1="532.4" x2="722.87" y2="521.90" class="h"/>
<line x1="727.13" y1="532.4" x2="727.13" y2="520.25" class="u"/><line x1="727.13" y1="532.4" x2="727.13" y2="520.25" class="h"/>
<line x1="731.40" y1="532.4" x2="731.40" y2="520.00" class="u"/><line x1="731.40" y1="532.4" x2="731.40" y2="520.00" class="h"/>
<line x1="735.67" y1="532.4" x2="735.67" y2="519.40" class="u"/><line x1="735.67" y1="532.4" x2="735.67" y2="519.40" class="h"/>
<line x1="739.93" y1="532.4" x2="739.93" y2="521.25" class="u"/><line x1="739.93" y1="532.4" x2="739.93" y2="521.25" class="h"/>
<line x1="744.20" y1="532.4" x2="744.20" y2="520.00" class="u"/><line x1="744.20" y1="532.4" x2="744.20" y2="520.00" class="h"/>
<line x1="748.47" y1="532.4" x2="748.47" y2="521.25" class="u"/><line x1="748.47" y1="532.4" x2="748.47" y2="521.25" class="h"/>
<line x1="752.73" y1="532.4" x2="752.73" y2="521.90" class="u"/><line x1="752.73" y1="532.4" x2="752.73" y2="521.90" class="h"/>
<line x1="757.00" y1="532.4" x2="757.00" y2="523.10" class="u"/><line x1="757.00" y1="532.4" x2="757.00" y2="523.10" class="h"/>
<line x1="761.27" y1="532.4" x2="761.27" y2="524.00" class="u"/><line x1="761.27" y1="532.4" x2="761.27" y2="524.00" class="h"/>
<line x1="765.53" y1="532.4" x2="765.53" y2="526.25" class="u"/><line x1="765.53" y1="532.4" x2="765.53" y2="526.25" class="h"/>
<line x1="769.80" y1="532.4" x2="769.80" y2="526.00" class="u"/><line x1="769.80" y1="532.4" x2="769.80" y2="526.00" class="h"/>
<line x1="774.07" y1="532.4" x2="774.07" y2="527.25" class="u"/><line x1="774.07" y1="532.4" x2="774.07" y2="527.25" class="h"/>
<line x1="778.33" y1="532.4" x2="778.33" y2="527.75" class="u"/><line x1="778.33" y1="532.4" x2="778.33" y2="527.75" class="h"/>
<line x1="782.60" y1="532.4" x2="782.60" y2="526.90" class="u"/><line x1="782.60" y1="532.4" x2="782.60" y2="526.90" class="h"/>
<line x1="786.87" y1="532.4" x2="786.87" y2="525.60" class="u"/><line x1="786.87" y1="532.4" x2="786.87" y2="525.60" class="h"/>
<line x1="791.13" y1="532.4" x2="791.13" y2="523.10" class="u"/><line x1="791.13" y1="532.4" x2="791.13" y2="523.10" class="h"/>
<line x1="795.40" y1="532.4" x2="795.40" y2="525.60" class="u"/><line x1="795.40" y1="532.4" x2="795.40" y2="525.60" class="h"/>
<line x1="799.67" y1="532.4" x2="799.67" y2="526.25" class="u"/><line x1="799.67" y1="532.4" x2="799.67" y2="526.25" class="h"/>
<line x1="803.93" y1="532.4" x2="803.93" y2="526.50" class="u"/><line x1="803.93" y1="532.4" x2="803.93" y2="526.50" class="h"/>
<line x1="808.20" y1="532.4" x2="808.20" y2="526.25" class="u"/><line x1="808.20" y1="532.4" x2="808.20" y2="526.25" class="h"/>
<line x1="812.47" y1="532.4" x2="812.47" y2="525.00" class="u"/><line x1="812.47" y1="532.4" x2="812.47" y2="525.00" class="h"/>
<line x1="816.73" y1="532.4" x2="816.73" y2="522.25" class="u"/><line x1="816.73" y1="532.4" x2="816.73" y2="522.25" class="h"/>
<line x1="821.00" y1="532.4" x2="821.00" y2="519.00" class="u"/><line x1="821.00" y1="532.4" x2="821.00" y2="519.00" class="h"/>
<line x1="825.27" y1="532.4" x2="825.27" y2="516.25" class="u"/><line x1="825.27" y1="532.4" x2="825.27" y2="516.25" class="h"/>
<line x1="829.53" y1="532.4" x2="829.53" y2="515.00" class="u"/><line x1="829.53" y1="532.4" x2="829.53" y2="515.00" class="h"/>
<line x1="833.80" y1="532.4" x2="833.80" y2="512.25" class="u"/><line x1="833.80" y1="532.4" x2="833.80" y2="512.25" class="h"/>
<line x1="838.07" y1="532.4" x2="838.07" y2="510.25" class="u"/><line x1="838.07" y1="532.4" x2="838.07" y2="510.25" class="h"/>
<line x1="842.33" y1="532.4" x2="842.33" y2="509.75" class="u"/><line x1="842.33" y1="532.4" x2="842.33" y2="509.75" class="h"/>
<line x1="846.60" y1="532.4" x2="846.60" y2="510.00" class="u"/><line x1="846.60" y1="532.4" x2="846.60" y2="510.00" class="h"/>
<line x1="850.87" y1="532.4" x2="850.87" y2="510.00" class="u"/><line x1="850.87" y1="532.4" x2="850.87" y2="510.00" class="h"/>
<line x1="855.13" y1="532.4" x2="855.13" y2="510.60" class="u"/><line x1="855.13" y1="532.4" x2="855.13" y2="510.60" class="h"/>
<line x1="859.40" y1="532.4" x2="859.40" y2="510.25" class="u"/><line x1="859.40" y1="532.4" x2="859.40" y2="510.25" class="h"/>
<line x1="863.67" y1="532.4" x2="863.67" y2="508.10" class="u"/><line x1="863.67" y1="532.4" x2="863.67" y2="508.10" class="h"/>
<line x1="867.93" y1="532.4" x2="867.93" y2="506.90" class="u"/><line x1="867.93" y1="532.4" x2="867.93" y2="506.90" class="h"/>
<line x1="872.20" y1="532.4" x2="872.20" y2="506.00" class="u"/><line x1="872.20" y1="532.4" x2="872.20" y2="506.00" class="h"/>
<line x1="876.47" y1="532.4" x2="876.47" y2="506.00" class="u"/><line x1="876.47" y1="532.4" x2="876.47" y2="506.00" class="h"/>
<line x1="880.73" y1="532.4" x2="880.73" y2="506.50" class="u"/><line x1="880.73" y1="532.4" x2="880.73" y2="506.50" class="h"/>
<line x1="885.00" y1="532.4" x2="885.00" y2="506.50" class="u"/><line x1="885.00" y1="532.4" x2="885.00" y2="506.50" class="h"/>
<line x1="889.27" y1="532.4" x2="889.27" y2="507.60" class="u"/><line x1="889.27" y1="532.4" x2="889.27" y2="507.60" class="h"/>
<line x1="893.53" y1="532.4" x2="893.53" y2="510.00" class="u"/><line x1="893.53" y1="532.4" x2="893.53" y2="510.00" class="h"/>
<line x1="897.80" y1="532.4" x2="897.80" y2="513.10" class="u"/><line x1="897.80" y1="532.4" x2="897.80" y2="513.10" class="h"/>
<line x1="902.07" y1="532.4" x2="902.07" y2="515.00" class="u"/><line x1="902.07" y1="532.4" x2="902.07" y2="515.00" class="h"/>
<line x1="906.33" y1="532.4" x2="906.33" y2="517.75" class="u"/><line x1="906.33" y1="532.4" x2="906.33" y2="517.75" class="h"/>
<line x1="910.60" y1="532.4" x2="910.60" y2="520.00" class="u"/><line x1="910.60" y1="532.4" x2="910.60" y2="520.00" class="h"/>
<line x1="914.87" y1="532.4" x2="914.87" y2="523.75" class="u"/><line x1="914.87" y1="532.4" x2="914.87" y2="523.75" class="h"/>
<line x1="919.13" y1="532.4" x2="919.13" y2="527.25" class="u"/><line x1="919.13" y1="532.4" x2="919.13" y2="527.25" class="h"/>
<line x1="923.40" y1="532.4" x2="923.40" y2="531.90" class="u"/><line x1="923.40" y1="532.4" x2="923.40" y2="531.90" class="h"/>
<line x1="927.67" y1="532.4" x2="927.67" y2="530.25" class="u"/><line x1="927.67" y1="532.4" x2="927.67" y2="530.25" class="h"/>
<line x1="931.93" y1="532.4" x2="931.93" y2="531.25" class="u"/><line x1="931.93" y1="532.4" x2="931.93" y2="531.25" class="h"/>
<line x1="936.20" y1="532.4" x2="936.20" y2="531.50" class="u"/><line x1="936.20" y1="532.4" x2="936.20" y2="531.50" class="h"/>
<line x1="940.47" y1="532.4" x2="940.47" y2="531.90" class="u"/><line x1="940.47" y1="532.4" x2="940.47" y2="531.90" class="h"/>
<line x1="944.73" y1="532.4" x2="944.73" y2="532.80" class="u"/><line x1="944.73" y1="532.4" x2="944.73" y2="532.80" class="h"/>
<line x1="949.00" y1="532.4" x2="949.00" y2="536.90" class="u"/><line x1="949.00" y1="532.4" x2="949.00" y2="536.90" class="h"/>
<line x1="953.27" y1="532.4" x2="953.27" y2="536.50" class="u"/><line x1="953.27" y1="532.4" x2="953.27" y2="536.50" class="h"/>
<line x1="957.53" y1="532.4" x2="957.53" y2="539.00" class="u"/><line x1="957.53" y1="532.4" x2="957.53" y2="539.00" class="h"/>
<line x1="961.80" y1="532.4" x2="961.80" y2="541.50" class="u"/><line x1="961.80" y1="532.4" x2="961.80" y2="541.50" class="h"/>
<line x1="966.07" y1="532.4" x2="966.07" y2="543.75" class="u"/><line x1="966.07" y1="532.4" x2="966.07" y2="543.75" class="h"/>
<line x1="970.33" y1="532.4" x2="970.33" y2="545.25" class="u"/><line x1="970.33" y1="532.4" x2="970.33" y2="545.25" class="h"/>
<line x1="974.60" y1="532.4" x2="974.60" y2="546.25" class="u"/><line x1="974.60" y1="532.4" x2="974.60" y2="546.25" class="h"/>
<line x1="978.87" y1="532.4" x2="978.87" y2="546.50" class="u"/><line x1="978.87" y1="532.4" x2="978.87" y2="546.50" class="h"/>
<polyline points="1.80,519.40 6.07,515.60 10.33,514.75 14.60,514.40 18.87,516.25 23.13,520.00 27.40,525.00 31.67,531.25 35.93,538.10 40.20,543.10 44.47,547.50 48.73,550.60 53.00,553.10 57.27,554.00 61.53,554.00 65.80,553.10 70.07,551.50 74.33,549.75 78.60,547.75 82.87,545.60 87.13,543.10 91.40,541.25 95.67,540.60 99.93,540.60 104.20,540.60 108.47,541.25 112.73,541.90 117.00,542.50 121.27,544.00 125.53,545.60 129.80,547.25 134.07,548.75 138.33,550.25 142.60,551.00 146.87,551.25 151.13,551.50 155.40,551.25 159.67,550.00 163.93,548.75 168.20,547.50 172.47,545.60 176.73,543.10 181.00,541.25 185.27,539.75 189.53,538.10 193.80,536.90 198.07,535.60 202.33,534.00 206.60,533.10 210.87,533.10 215.13,534.00 219.40,534.00 223.67,533.75 227.93,532.50 232.20,531.25 236.47,529.00 240.73,527.50 245.00,524.40 249.27,519.40 253.53,514.40 257.80,511.50 262.07,506.75 266.33,504.00 270.60,501.25 274.87,499.60 279.13,498.75 283.40,497.50 287.67,498.00 291.93,498.40 296.20,498.40 300.47,498.40 304.73,498.00 309.00,497.10 313.27,495.25 317.53,494.00 321.80,492.10 326.07,489.00 330.33,486.50 334.60,484.60 338.87,482.50 343.13,482.10 347.40,481.75 351.67,481.75 355.93,482.50 360.20,483.00 364.47,484.25 368.73,485.50 373.00,486.75 377.27,488.40 381.53,490.00 385.80,490.90 390.07,492.10 394.33,493.00 398.60,495.00 402.87,497.50 407.13,500.90 411.40,504.60 415.67,507.75 419.93,510.50 424.20,513.00 428.47,515.50 432.73,517.50 437.00,519.00 441.27,519.00 445.53,519.00 449.80,517.10 454.07,515.50 458.33,514.00 462.60,511.75 466.87,509.60 471.13,507.75 475.40,506.25 479.67,505.00 483.93,503.75 488.20,503.75 492.47,504.00 496.73,505.25 501.00,505.90 505.27,507.10 509.53,509.00 513.80,509.75 518.07,513.10 522.33,516.50 526.60,520.25 530.87,523.50 535.13,527.75 539.40,532.50 543.67,537.50 547.93,541.50 552.20,544.75 556.47,546.90 560.73,548.75 565.00,550.00 569.27,550.60 573.53,551.00 577.80,551.00 582.07,551.00 586.33,550.60 590.60,550.60 594.87,550.25 599.13,549.40 603.40,548.10 607.67,546.50 611.93,545.00 616.20,544.00 620.47,542.50 624.73,541.25 629.00,541.25 633.27,541.50 637.53,542.25 641.80,542.75 646.07,544.40 650.33,546.00 654.60,547.75 658.87,549.40 663.13,550.60 667.40,551.25 671.67,551.25 675.93,551.25 680.20,551.25 684.47,551.25 688.73,550.60 693.00,549.75 697.27,548.10 701.53,546.25 705.80,543.75 710.07,540.60 714.33,537.25 718.60,533.75 722.87,530.25 727.13,527.25 731.40,525.00 735.67,522.25 739.93,520.60 744.20,519.75 748.47,519.75 752.73,520.00 757.00,520.25 761.27,520.60 765.53,521.90 769.80,522.25 774.07,523.10 778.33,523.75 782.60,524.40 786.87,525.00 791.13,525.25 795.40,525.25 799.67,525.25 803.93,525.25 808.20,525.25 812.47,525.25 816.73,524.40 821.00,524.00 825.27,522.75 829.53,521.90 833.80,520.60 838.07,518.50 842.33,516.50 846.60,514.75 850.87,512.75 855.13,511.90 859.40,510.60 863.67,509.75 867.93,508.75 872.20,508.10 876.47,507.75 880.73,507.25 885.00,506.50 889.27,506.25 893.53,506.70 897.80,507.25 902.07,507.75 906.33,509.40 910.60,511.00 914.87,513.10 919.13,515.00 923.40,517.75 927.67,520.60 931.93,522.75 936.20,524.75 940.47,526.25 944.73,528.10 949.00,530.00 953.27,531.90 957.53,533.10 961.80,534.75 966.07,536.50 970.33,538.10 974.60,539.75 978.87,541.25" fill="none" stroke="#4cc4c4" stroke-width="1.2" stroke-linejoin="round"/>
</g>
<path d="M1.5 391.8 V1.5 H990.2 V391.8" class="fr"/>
<line x1="0" y1="391.8" x2="990.2" y2="391.8" class="sep"/>
<line x1="1.5" y1="393.5" x2="1.5" y2="472.8" class="fr"/><line x1="990.2" y1="393.5" x2="990.2" y2="472.8" class="fr"/>
<line x1="0" y1="473.5" x2="990.8000000000001" y2="473.5" stroke="#b4b4cc" stroke-width="2.3"/>
<path d="M1.5 474.0 V563.4 H990.2 V474.0" class="fr"/>
<text x="0.60" y="571.8" class="t">28 Nov 2022</text>
<line x1="53.15" y1="563.4" x2="53.15" y2="566.4" class="f"/>
<text x="52.00" y="571.8" class="t">29 Nov 05:00</text>
<line x1="104.35" y1="563.4" x2="104.35" y2="566.4" class="f"/>
<text x="103.20" y="571.8" class="t">29 Nov 17:00</text>
<line x1="155.55" y1="563.4" x2="155.55" y2="566.4" class="f"/>
<text x="154.40" y="571.8" class="t">30 Nov 05:00</text>
<line x1="206.75" y1="563.4" x2="206.75" y2="566.4" class="f"/>
<text x="205.60" y="571.8" class="t">30 Nov 17:00</text>
<line x1="257.95" y1="563.4" x2="257.95" y2="566.4" class="f"/>
<text x="256.80" y="571.8" class="t">1 Dec 05:00</text>
<line x1="309.15" y1="563.4" x2="309.15" y2="566.4" class="f"/>
<text x="308.00" y="571.8" class="t">1 Dec 17:00</text>
<line x1="360.35" y1="563.4" x2="360.35" y2="566.4" class="f"/>
<text x="359.20" y="571.8" class="t">2 Dec 05:00</text>
<line x1="411.55" y1="563.4" x2="411.55" y2="566.4" class="f"/>
<text x="410.40" y="571.8" class="t">2 Dec 17:00</text>
<line x1="462.75" y1="563.4" x2="462.75" y2="566.4" class="f"/>
<text x="461.60" y="571.8" class="t">5 Dec 05:00</text>
<line x1="513.95" y1="563.4" x2="513.95" y2="566.4" class="f"/>
<text x="512.80" y="571.8" class="t">5 Dec 17:00</text>
<line x1="565.15" y1="563.4" x2="565.15" y2="566.4" class="f"/>
<text x="564.00" y="571.8" class="t">6 Dec 05:00</text>
<line x1="616.35" y1="563.4" x2="616.35" y2="566.4" class="f"/>
<text x="615.20" y="571.8" class="t">6 Dec 17:00</text>
<line x1="667.55" y1="563.4" x2="667.55" y2="566.4" class="f"/>
<text x="666.40" y="571.8" class="t">7 Dec 05:00</text>
<line x1="718.75" y1="563.4" x2="718.75" y2="566.4" class="f"/>
<text x="717.60" y="571.8" class="t">7 Dec 17:00</text>
<line x1="769.95" y1="563.4" x2="769.95" y2="566.4" class="f"/>
<text x="768.80" y="571.8" class="t">8 Dec 05:00</text>
<line x1="821.15" y1="563.4" x2="821.15" y2="566.4" class="f"/>
<text x="820.00" y="571.8" class="t">8 Dec 17:00</text>
<line x1="872.35" y1="563.4" x2="872.35" y2="566.4" class="f"/>
<text x="871.20" y="571.8" class="t">9 Dec 05:00</text>
<line x1="923.55" y1="563.4" x2="923.55" y2="566.4" class="f"/>
<text x="922.40" y="571.8" class="t">9 Dec 17:00</text>
<line x1="974.75" y1="563.4" x2="974.75" y2="566.4" class="f"/>
<text x="973.60" y="571.8" class="t">12 Dec 05:00</text>
<rect x="10" y="2.6" width="146" height="8.2" fill="#0e1038"/>
<rect x="3" y="476.6" width="113" height="7.6" fill="#0e1038"/>
<path d="M3.2 5.1 H8.2 L5.7 7.9 Z" fill="#e8e8f0"/>
<text x="11.2" y="9.2" class="t">EURUSD,H1 &#160;1.05145 1.05192 1.05135 1.05186</text>
<text x="3.5" y="400.6" class="t">RSI(14) 39.0450</text>
<text x="3.5" y="482.8" class="t">MACD(12,26,9) -0.000891 -0.000556</text>
<rect x="991" y="106.7" width="30" height="7.4" fill="#ffffff"/>
<text x="993.5" y="112.6" class="t" style="fill:#10103a">1.05186</text>
</svg></body></html>
